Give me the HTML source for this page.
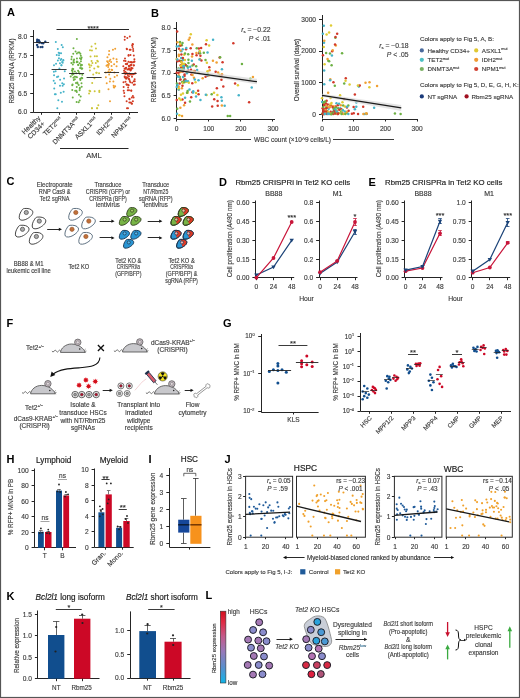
<!DOCTYPE html>
<html><head><meta charset="utf-8"><style>
html,body{margin:0;padding:0;background:#fff;}
svg{display:block;font-family:"Liberation Sans", sans-serif;will-change:transform;}
text{stroke:#3a3a3a;stroke-width:0.14px;}
</style></head><body>
<svg width="520" height="698" viewBox="0 0 520 698">
<rect x="0" y="0" width="520" height="698" fill="#fff"/>
<text x="7.00" y="16.35" font-size="11" font-weight="bold" fill="#000" style="stroke:none">A</text>
<line x1="33.50" y1="30.00" x2="33.50" y2="112.30" stroke="#252525" stroke-width="1.0" />
<line x1="30.20" y1="36.50" x2="33.20" y2="36.50" stroke="#252525" stroke-width="1.0" />
<text x="27.20" y="38.82" font-size="6.615" text-anchor="end" fill="#3a3a3a">8.0</text>
<line x1="30.20" y1="55.50" x2="33.20" y2="55.50" stroke="#252525" stroke-width="1.0" />
<text x="27.20" y="57.72" font-size="6.615" text-anchor="end" fill="#3a3a3a">7.5</text>
<line x1="30.20" y1="74.50" x2="33.20" y2="74.50" stroke="#252525" stroke-width="1.0" />
<text x="27.20" y="76.62" font-size="6.615" text-anchor="end" fill="#3a3a3a">7.0</text>
<line x1="30.20" y1="93.50" x2="33.20" y2="93.50" stroke="#252525" stroke-width="1.0" />
<text x="27.20" y="95.52" font-size="6.615" text-anchor="end" fill="#3a3a3a">6.5</text>
<line x1="30.20" y1="112.50" x2="33.20" y2="112.50" stroke="#252525" stroke-width="1.0" />
<text x="27.20" y="114.42" font-size="6.615" text-anchor="end" fill="#3a3a3a">6.0</text>
<line x1="33.20" y1="112.50" x2="138.00" y2="112.50" stroke="#252525" stroke-width="1.0" />
<line x1="41.50" y1="112.30" x2="41.50" y2="114.80" stroke="#252525" stroke-width="1.0" />
<line x1="59.50" y1="112.30" x2="59.50" y2="114.80" stroke="#252525" stroke-width="1.0" />
<line x1="76.50" y1="112.30" x2="76.50" y2="114.80" stroke="#252525" stroke-width="1.0" />
<line x1="94.50" y1="112.30" x2="94.50" y2="114.80" stroke="#252525" stroke-width="1.0" />
<line x1="111.50" y1="112.30" x2="111.50" y2="114.80" stroke="#252525" stroke-width="1.0" />
<line x1="129.50" y1="112.30" x2="129.50" y2="114.80" stroke="#252525" stroke-width="1.0" />
<text x="11.50" y="73.20" font-size="6.3" text-anchor="middle" fill="#3a3a3a" transform="rotate(-90 11.50 71.00)">RBM25 mRNA (RPKM)</text>
<circle cx="43.16" cy="43.23" r="1.2" fill="#1c3f73" />
<circle cx="37.20" cy="41.19" r="1.2" fill="#1c3f73" />
<circle cx="37.09" cy="45.01" r="1.2" fill="#1c3f73" />
<circle cx="41.68" cy="43.11" r="1.2" fill="#1c3f73" />
<circle cx="37.22" cy="39.80" r="1.2" fill="#1c3f73" />
<circle cx="37.37" cy="41.89" r="1.2" fill="#1c3f73" />
<circle cx="37.82" cy="46.96" r="1.2" fill="#1c3f73" />
<circle cx="38.77" cy="40.29" r="1.2" fill="#1c3f73" />
<circle cx="42.37" cy="47.02" r="1.2" fill="#1c3f73" />
<circle cx="40.56" cy="47.08" r="1.2" fill="#1c3f73" />
<circle cx="45.30" cy="41.74" r="1.2" fill="#1c3f73" />
<circle cx="39.41" cy="42.67" r="1.2" fill="#1c3f73" />
<circle cx="39.62" cy="41.73" r="1.2" fill="#1c3f73" />
<circle cx="62.69" cy="62.68" r="1.0" fill="#45b3c9" />
<circle cx="60.64" cy="59.92" r="1.0" fill="#45b3c9" />
<circle cx="57.82" cy="49.02" r="1.0" fill="#45b3c9" />
<circle cx="54.06" cy="75.24" r="1.0" fill="#45b3c9" />
<circle cx="55.62" cy="71.20" r="1.0" fill="#45b3c9" />
<circle cx="57.00" cy="77.00" r="1.0" fill="#45b3c9" />
<circle cx="59.99" cy="85.66" r="1.0" fill="#45b3c9" />
<circle cx="62.25" cy="83.13" r="1.0" fill="#45b3c9" />
<circle cx="61.41" cy="65.22" r="1.0" fill="#45b3c9" />
<circle cx="59.40" cy="68.56" r="1.0" fill="#45b3c9" />
<circle cx="62.81" cy="47.17" r="1.0" fill="#45b3c9" />
<circle cx="64.78" cy="71.19" r="1.0" fill="#45b3c9" />
<circle cx="55.02" cy="83.29" r="1.0" fill="#45b3c9" />
<circle cx="55.75" cy="94.30" r="1.0" fill="#45b3c9" />
<circle cx="58.98" cy="55.30" r="1.0" fill="#45b3c9" />
<circle cx="61.66" cy="44.88" r="1.0" fill="#45b3c9" />
<circle cx="59.93" cy="63.22" r="1.0" fill="#45b3c9" />
<circle cx="61.25" cy="58.92" r="1.0" fill="#45b3c9" />
<circle cx="60.14" cy="79.79" r="1.0" fill="#45b3c9" />
<circle cx="62.65" cy="85.85" r="1.0" fill="#45b3c9" />
<circle cx="64.05" cy="78.42" r="1.0" fill="#45b3c9" />
<circle cx="54.87" cy="94.18" r="1.0" fill="#45b3c9" />
<circle cx="61.44" cy="65.31" r="1.0" fill="#45b3c9" />
<circle cx="61.97" cy="101.70" r="1.0" fill="#45b3c9" />
<circle cx="57.31" cy="108.32" r="1.0" fill="#45b3c9" />
<circle cx="54.24" cy="88.43" r="1.0" fill="#45b3c9" />
<circle cx="58.70" cy="52.76" r="1.0" fill="#45b3c9" />
<circle cx="53.98" cy="65.21" r="1.0" fill="#45b3c9" />
<circle cx="62.13" cy="62.00" r="1.0" fill="#45b3c9" />
<circle cx="57.88" cy="60.56" r="1.0" fill="#45b3c9" />
<circle cx="63.23" cy="60.07" r="1.0" fill="#45b3c9" />
<circle cx="59.62" cy="53.14" r="1.0" fill="#45b3c9" />
<circle cx="63.37" cy="60.38" r="1.0" fill="#45b3c9" />
<circle cx="56.74" cy="55.06" r="1.0" fill="#45b3c9" />
<circle cx="58.33" cy="100.19" r="1.0" fill="#45b3c9" />
<circle cx="63.62" cy="91.69" r="1.0" fill="#45b3c9" />
<circle cx="55.82" cy="42.00" r="1.0" fill="#45b3c9" />
<circle cx="56.04" cy="63.86" r="1.0" fill="#45b3c9" />
<circle cx="58.94" cy="58.33" r="1.0" fill="#45b3c9" />
<circle cx="53.68" cy="80.64" r="1.0" fill="#45b3c9" />
<circle cx="58.18" cy="76.44" r="1.0" fill="#45b3c9" />
<circle cx="63.89" cy="84.36" r="1.0" fill="#45b3c9" />
<circle cx="61.09" cy="53.29" r="1.0" fill="#45b3c9" />
<circle cx="60.82" cy="92.86" r="1.0" fill="#45b3c9" />
<circle cx="53.85" cy="71.68" r="1.0" fill="#45b3c9" />
<circle cx="80.37" cy="53.74" r="1.0" fill="#6cb043" />
<circle cx="79.76" cy="88.67" r="1.0" fill="#6cb043" />
<circle cx="72.27" cy="85.23" r="1.0" fill="#6cb043" />
<circle cx="78.10" cy="64.85" r="1.0" fill="#6cb043" />
<circle cx="73.24" cy="68.96" r="1.0" fill="#6cb043" />
<circle cx="72.61" cy="71.88" r="1.0" fill="#6cb043" />
<circle cx="70.72" cy="76.45" r="1.0" fill="#6cb043" />
<circle cx="72.55" cy="69.94" r="1.0" fill="#6cb043" />
<circle cx="71.40" cy="62.95" r="1.0" fill="#6cb043" />
<circle cx="80.80" cy="65.79" r="1.0" fill="#6cb043" />
<circle cx="73.77" cy="80.06" r="1.0" fill="#6cb043" />
<circle cx="74.85" cy="79.27" r="1.0" fill="#6cb043" />
<circle cx="80.63" cy="78.76" r="1.0" fill="#6cb043" />
<circle cx="82.26" cy="68.38" r="1.0" fill="#6cb043" />
<circle cx="72.27" cy="90.07" r="1.0" fill="#6cb043" />
<circle cx="71.96" cy="70.42" r="1.0" fill="#6cb043" />
<circle cx="80.35" cy="80.12" r="1.0" fill="#6cb043" />
<circle cx="72.84" cy="64.51" r="1.0" fill="#6cb043" />
<circle cx="76.85" cy="39.02" r="1.0" fill="#6cb043" />
<circle cx="72.53" cy="68.82" r="1.0" fill="#6cb043" />
<circle cx="76.93" cy="77.16" r="1.0" fill="#6cb043" />
<circle cx="82.30" cy="74.82" r="1.0" fill="#6cb043" />
<circle cx="74.06" cy="59.43" r="1.0" fill="#6cb043" />
<circle cx="75.21" cy="90.71" r="1.0" fill="#6cb043" />
<circle cx="76.95" cy="61.62" r="1.0" fill="#6cb043" />
<circle cx="79.38" cy="52.50" r="1.0" fill="#6cb043" />
<circle cx="80.19" cy="78.82" r="1.0" fill="#6cb043" />
<circle cx="82.01" cy="64.97" r="1.0" fill="#6cb043" />
<circle cx="79.95" cy="58.28" r="1.0" fill="#6cb043" />
<circle cx="79.00" cy="94.71" r="1.0" fill="#6cb043" />
<circle cx="74.90" cy="71.40" r="1.0" fill="#6cb043" />
<circle cx="71.72" cy="56.76" r="1.0" fill="#6cb043" />
<circle cx="73.97" cy="62.47" r="1.0" fill="#6cb043" />
<circle cx="78.87" cy="71.89" r="1.0" fill="#6cb043" />
<circle cx="81.22" cy="58.86" r="1.0" fill="#6cb043" />
<circle cx="82.26" cy="78.14" r="1.0" fill="#6cb043" />
<circle cx="73.60" cy="60.78" r="1.0" fill="#6cb043" />
<circle cx="73.42" cy="77.74" r="1.0" fill="#6cb043" />
<circle cx="78.05" cy="70.73" r="1.0" fill="#6cb043" />
<circle cx="81.05" cy="64.75" r="1.0" fill="#6cb043" />
<circle cx="78.31" cy="65.09" r="1.0" fill="#6cb043" />
<circle cx="79.80" cy="87.76" r="1.0" fill="#6cb043" />
<circle cx="80.81" cy="55.73" r="1.0" fill="#6cb043" />
<circle cx="79.70" cy="63.20" r="1.0" fill="#6cb043" />
<circle cx="72.74" cy="73.91" r="1.0" fill="#6cb043" />
<circle cx="79.62" cy="90.30" r="1.0" fill="#6cb043" />
<circle cx="81.69" cy="86.71" r="1.0" fill="#6cb043" />
<circle cx="75.57" cy="51.51" r="1.0" fill="#6cb043" />
<circle cx="78.69" cy="102.25" r="1.0" fill="#6cb043" />
<circle cx="73.28" cy="53.72" r="1.0" fill="#6cb043" />
<circle cx="81.24" cy="68.18" r="1.0" fill="#6cb043" />
<circle cx="80.11" cy="68.03" r="1.0" fill="#6cb043" />
<circle cx="81.62" cy="57.60" r="1.0" fill="#6cb043" />
<circle cx="78.17" cy="52.56" r="1.0" fill="#6cb043" />
<circle cx="72.55" cy="84.61" r="1.0" fill="#6cb043" />
<circle cx="71.45" cy="59.29" r="1.0" fill="#6cb043" />
<circle cx="76.87" cy="53.46" r="1.0" fill="#6cb043" />
<circle cx="81.65" cy="77.71" r="1.0" fill="#6cb043" />
<circle cx="79.69" cy="100.55" r="1.0" fill="#6cb043" />
<circle cx="73.46" cy="62.16" r="1.0" fill="#6cb043" />
<circle cx="73.49" cy="74.06" r="1.0" fill="#6cb043" />
<circle cx="77.54" cy="61.96" r="1.0" fill="#6cb043" />
<circle cx="72.20" cy="74.80" r="1.0" fill="#6cb043" />
<circle cx="80.94" cy="58.98" r="1.0" fill="#6cb043" />
<circle cx="77.52" cy="83.57" r="1.0" fill="#6cb043" />
<circle cx="80.96" cy="61.28" r="1.0" fill="#6cb043" />
<circle cx="76.62" cy="102.12" r="1.0" fill="#6cb043" />
<circle cx="76.94" cy="58.57" r="1.0" fill="#6cb043" />
<circle cx="75.90" cy="76.68" r="1.0" fill="#6cb043" />
<circle cx="72.81" cy="74.33" r="1.0" fill="#6cb043" />
<circle cx="73.47" cy="48.19" r="1.0" fill="#6cb043" />
<circle cx="76.28" cy="73.29" r="1.0" fill="#6cb043" />
<circle cx="74.56" cy="76.77" r="1.0" fill="#6cb043" />
<circle cx="76.79" cy="92.02" r="1.0" fill="#6cb043" />
<circle cx="72.76" cy="97.57" r="1.0" fill="#6cb043" />
<circle cx="77.27" cy="82.51" r="1.0" fill="#6cb043" />
<circle cx="79.86" cy="73.81" r="1.0" fill="#6cb043" />
<circle cx="76.68" cy="62.36" r="1.0" fill="#6cb043" />
<circle cx="80.67" cy="96.39" r="1.0" fill="#6cb043" />
<circle cx="75.97" cy="83.10" r="1.0" fill="#6cb043" />
<circle cx="76.73" cy="86.88" r="1.0" fill="#6cb043" />
<circle cx="78.71" cy="85.00" r="1.0" fill="#6cb043" />
<circle cx="76.37" cy="90.87" r="1.0" fill="#6cb043" />
<circle cx="81.68" cy="68.69" r="1.0" fill="#6cb043" />
<circle cx="81.52" cy="83.14" r="1.0" fill="#6cb043" />
<circle cx="91.92" cy="108.16" r="1.0" fill="#cdc63a" />
<circle cx="97.18" cy="108.32" r="1.0" fill="#cdc63a" />
<circle cx="90.23" cy="91.22" r="1.0" fill="#cdc63a" />
<circle cx="89.47" cy="64.94" r="1.0" fill="#cdc63a" />
<circle cx="91.28" cy="65.46" r="1.0" fill="#cdc63a" />
<circle cx="96.93" cy="56.15" r="1.0" fill="#cdc63a" />
<circle cx="98.47" cy="66.85" r="1.0" fill="#cdc63a" />
<circle cx="95.81" cy="63.09" r="1.0" fill="#cdc63a" />
<circle cx="90.52" cy="56.54" r="1.0" fill="#cdc63a" />
<circle cx="91.56" cy="46.52" r="1.0" fill="#cdc63a" />
<circle cx="98.33" cy="105.24" r="1.0" fill="#cdc63a" />
<circle cx="99.29" cy="92.05" r="1.0" fill="#cdc63a" />
<circle cx="97.74" cy="66.38" r="1.0" fill="#cdc63a" />
<circle cx="94.27" cy="68.41" r="1.0" fill="#cdc63a" />
<circle cx="92.39" cy="62.99" r="1.0" fill="#cdc63a" />
<circle cx="96.67" cy="72.68" r="1.0" fill="#cdc63a" />
<circle cx="88.93" cy="64.22" r="1.0" fill="#cdc63a" />
<circle cx="89.06" cy="93.46" r="1.0" fill="#cdc63a" />
<circle cx="92.17" cy="83.02" r="1.0" fill="#cdc63a" />
<circle cx="89.43" cy="90.87" r="1.0" fill="#cdc63a" />
<circle cx="99.30" cy="90.69" r="1.0" fill="#cdc63a" />
<circle cx="89.74" cy="67.20" r="1.0" fill="#cdc63a" />
<circle cx="91.98" cy="108.32" r="1.0" fill="#cdc63a" />
<circle cx="91.93" cy="50.59" r="1.0" fill="#cdc63a" />
<circle cx="89.89" cy="70.53" r="1.0" fill="#cdc63a" />
<circle cx="96.99" cy="108.19" r="1.0" fill="#cdc63a" />
<circle cx="91.58" cy="60.92" r="1.0" fill="#cdc63a" />
<circle cx="94.81" cy="56.28" r="1.0" fill="#cdc63a" />
<circle cx="95.96" cy="48.60" r="1.0" fill="#cdc63a" />
<circle cx="96.28" cy="72.70" r="1.0" fill="#cdc63a" />
<circle cx="93.22" cy="74.41" r="1.0" fill="#cdc63a" />
<circle cx="95.28" cy="43.66" r="1.0" fill="#cdc63a" />
<circle cx="97.25" cy="60.85" r="1.0" fill="#cdc63a" />
<circle cx="90.02" cy="50.29" r="1.0" fill="#cdc63a" />
<circle cx="97.91" cy="61.62" r="1.0" fill="#cdc63a" />
<circle cx="94.67" cy="91.17" r="1.0" fill="#cdc63a" />
<circle cx="99.05" cy="73.19" r="1.0" fill="#cdc63a" />
<circle cx="94.42" cy="78.26" r="1.0" fill="#cdc63a" />
<circle cx="108.65" cy="64.90" r="1.0" fill="#f0a033" />
<circle cx="106.49" cy="65.82" r="1.0" fill="#f0a033" />
<circle cx="108.17" cy="67.00" r="1.0" fill="#f0a033" />
<circle cx="114.60" cy="77.06" r="1.0" fill="#f0a033" />
<circle cx="109.31" cy="61.07" r="1.0" fill="#f0a033" />
<circle cx="109.90" cy="81.40" r="1.0" fill="#f0a033" />
<circle cx="105.82" cy="72.42" r="1.0" fill="#f0a033" />
<circle cx="114.40" cy="72.42" r="1.0" fill="#f0a033" />
<circle cx="112.20" cy="69.88" r="1.0" fill="#f0a033" />
<circle cx="116.57" cy="66.36" r="1.0" fill="#f0a033" />
<circle cx="107.44" cy="57.27" r="1.0" fill="#f0a033" />
<circle cx="111.54" cy="66.00" r="1.0" fill="#f0a033" />
<circle cx="115.17" cy="86.28" r="1.0" fill="#f0a033" />
<circle cx="113.61" cy="85.78" r="1.0" fill="#f0a033" />
<circle cx="116.90" cy="61.78" r="1.0" fill="#f0a033" />
<circle cx="113.79" cy="87.34" r="1.0" fill="#f0a033" />
<circle cx="112.94" cy="49.74" r="1.0" fill="#f0a033" />
<circle cx="106.72" cy="83.37" r="1.0" fill="#f0a033" />
<circle cx="107.42" cy="64.93" r="1.0" fill="#f0a033" />
<circle cx="109.16" cy="51.10" r="1.0" fill="#f0a033" />
<circle cx="107.88" cy="62.26" r="1.0" fill="#f0a033" />
<circle cx="115.21" cy="48.64" r="1.0" fill="#f0a033" />
<circle cx="113.42" cy="58.46" r="1.0" fill="#f0a033" />
<circle cx="109.16" cy="74.54" r="1.0" fill="#f0a033" />
<circle cx="111.15" cy="61.93" r="1.0" fill="#f0a033" />
<circle cx="108.95" cy="63.84" r="1.0" fill="#f0a033" />
<circle cx="116.57" cy="59.36" r="1.0" fill="#f0a033" />
<circle cx="108.97" cy="54.60" r="1.0" fill="#f0a033" />
<circle cx="117.05" cy="75.50" r="1.0" fill="#f0a033" />
<circle cx="105.85" cy="77.34" r="1.0" fill="#f0a033" />
<circle cx="110.32" cy="59.85" r="1.0" fill="#f0a033" />
<circle cx="108.49" cy="89.17" r="1.0" fill="#f0a033" />
<circle cx="111.66" cy="69.72" r="1.0" fill="#f0a033" />
<circle cx="107.12" cy="61.16" r="1.0" fill="#f0a033" />
<circle cx="110.40" cy="72.06" r="1.0" fill="#f0a033" />
<circle cx="109.31" cy="69.45" r="1.0" fill="#f0a033" />
<circle cx="108.41" cy="71.62" r="1.0" fill="#f0a033" />
<circle cx="114.25" cy="87.55" r="1.0" fill="#f0a033" />
<circle cx="113.36" cy="81.44" r="1.0" fill="#f0a033" />
<circle cx="110.34" cy="78.67" r="1.0" fill="#f0a033" />
<circle cx="109.99" cy="101.26" r="1.0" fill="#f0a033" />
<circle cx="114.12" cy="64.27" r="1.0" fill="#f0a033" />
<circle cx="130.89" cy="74.41" r="1.0" fill="#d23a22" />
<circle cx="132.90" cy="44.53" r="1.0" fill="#d23a22" />
<circle cx="130.60" cy="65.35" r="1.0" fill="#d23a22" />
<circle cx="124.66" cy="76.48" r="1.0" fill="#d23a22" />
<circle cx="129.33" cy="102.43" r="1.0" fill="#d23a22" />
<circle cx="132.02" cy="103.67" r="1.0" fill="#d23a22" />
<circle cx="133.19" cy="74.37" r="1.0" fill="#d23a22" />
<circle cx="130.87" cy="102.52" r="1.0" fill="#d23a22" />
<circle cx="131.21" cy="90.45" r="1.0" fill="#d23a22" />
<circle cx="124.50" cy="73.04" r="1.0" fill="#d23a22" />
<circle cx="127.40" cy="69.58" r="1.0" fill="#d23a22" />
<circle cx="129.70" cy="49.69" r="1.0" fill="#d23a22" />
<circle cx="130.47" cy="55.06" r="1.0" fill="#d23a22" />
<circle cx="128.98" cy="90.37" r="1.0" fill="#d23a22" />
<circle cx="123.69" cy="90.64" r="1.0" fill="#d23a22" />
<circle cx="129.14" cy="65.76" r="1.0" fill="#d23a22" />
<circle cx="129.45" cy="98.74" r="1.0" fill="#d23a22" />
<circle cx="132.01" cy="76.71" r="1.0" fill="#d23a22" />
<circle cx="126.10" cy="78.49" r="1.0" fill="#d23a22" />
<circle cx="131.73" cy="62.41" r="1.0" fill="#d23a22" />
<circle cx="125.55" cy="67.92" r="1.0" fill="#d23a22" />
<circle cx="129.03" cy="76.31" r="1.0" fill="#d23a22" />
<circle cx="128.03" cy="108.32" r="1.0" fill="#d23a22" />
<circle cx="131.83" cy="97.42" r="1.0" fill="#d23a22" />
<circle cx="130.54" cy="70.38" r="1.0" fill="#d23a22" />
<circle cx="124.80" cy="77.52" r="1.0" fill="#d23a22" />
<circle cx="126.12" cy="78.53" r="1.0" fill="#d23a22" />
<circle cx="129.95" cy="74.12" r="1.0" fill="#d23a22" />
<circle cx="123.62" cy="87.06" r="1.0" fill="#d23a22" />
<circle cx="131.07" cy="61.88" r="1.0" fill="#d23a22" />
<circle cx="131.43" cy="68.87" r="1.0" fill="#d23a22" />
<circle cx="129.30" cy="79.47" r="1.0" fill="#d23a22" />
<circle cx="128.70" cy="85.30" r="1.0" fill="#d23a22" />
<circle cx="133.75" cy="81.34" r="1.0" fill="#d23a22" />
<circle cx="125.36" cy="71.87" r="1.0" fill="#d23a22" />
<circle cx="124.80" cy="36.64" r="1.0" fill="#d23a22" />
<circle cx="128.60" cy="78.65" r="1.0" fill="#d23a22" />
<circle cx="128.55" cy="55.82" r="1.0" fill="#d23a22" />
<circle cx="126.99" cy="108.32" r="1.0" fill="#d23a22" />
<circle cx="125.73" cy="63.98" r="1.0" fill="#d23a22" />
<circle cx="129.82" cy="36.45" r="1.0" fill="#d23a22" />
<circle cx="134.25" cy="61.38" r="1.0" fill="#d23a22" />
<circle cx="125.02" cy="58.50" r="1.0" fill="#d23a22" />
<circle cx="133.66" cy="65.46" r="1.0" fill="#d23a22" />
<circle cx="131.31" cy="90.66" r="1.0" fill="#d23a22" />
<circle cx="128.93" cy="69.59" r="1.0" fill="#d23a22" />
<circle cx="124.71" cy="39.87" r="1.0" fill="#d23a22" />
<circle cx="128.57" cy="55.08" r="1.0" fill="#d23a22" />
<circle cx="126.61" cy="73.13" r="1.0" fill="#d23a22" />
<circle cx="126.95" cy="64.30" r="1.0" fill="#d23a22" />
<circle cx="133.00" cy="62.27" r="1.0" fill="#d23a22" />
<circle cx="132.48" cy="47.08" r="1.0" fill="#d23a22" />
<circle cx="124.32" cy="73.25" r="1.0" fill="#d23a22" />
<circle cx="133.26" cy="51.09" r="1.0" fill="#d23a22" />
<circle cx="126.69" cy="84.74" r="1.0" fill="#d23a22" />
<circle cx="134.84" cy="84.56" r="1.0" fill="#d23a22" />
<circle cx="130.12" cy="62.13" r="1.0" fill="#d23a22" />
<circle cx="126.51" cy="84.30" r="1.0" fill="#d23a22" />
<circle cx="123.99" cy="60.66" r="1.0" fill="#d23a22" />
<circle cx="126.92" cy="49.37" r="1.0" fill="#d23a22" />
<circle cx="133.81" cy="55.58" r="1.0" fill="#d23a22" />
<circle cx="129.24" cy="73.49" r="1.0" fill="#d23a22" />
<circle cx="125.58" cy="61.07" r="1.0" fill="#d23a22" />
<circle cx="132.87" cy="101.33" r="1.0" fill="#d23a22" />
<circle cx="132.15" cy="45.18" r="1.0" fill="#d23a22" />
<circle cx="133.60" cy="97.44" r="1.0" fill="#d23a22" />
<circle cx="129.59" cy="99.28" r="1.0" fill="#d23a22" />
<circle cx="132.01" cy="74.51" r="1.0" fill="#d23a22" />
<circle cx="128.51" cy="78.51" r="1.0" fill="#d23a22" />
<circle cx="126.41" cy="73.16" r="1.0" fill="#d23a22" />
<circle cx="124.45" cy="96.37" r="1.0" fill="#d23a22" />
<circle cx="128.77" cy="66.12" r="1.0" fill="#d23a22" />
<circle cx="127.19" cy="77.22" r="1.0" fill="#d23a22" />
<circle cx="134.73" cy="81.24" r="1.0" fill="#d23a22" />
<circle cx="126.67" cy="48.68" r="1.0" fill="#d23a22" />
<circle cx="129.78" cy="81.02" r="1.0" fill="#d23a22" />
<circle cx="127.89" cy="84.70" r="1.0" fill="#d23a22" />
<circle cx="125.56" cy="68.86" r="1.0" fill="#d23a22" />
<circle cx="133.88" cy="65.36" r="1.0" fill="#d23a22" />
<circle cx="133.76" cy="84.73" r="1.0" fill="#d23a22" />
<circle cx="135.35" cy="73.34" r="1.0" fill="#d23a22" />
<circle cx="125.48" cy="81.82" r="1.0" fill="#d23a22" />
<circle cx="124.05" cy="70.85" r="1.0" fill="#d23a22" />
<circle cx="125.91" cy="77.33" r="1.0" fill="#d23a22" />
<circle cx="126.20" cy="67.73" r="1.0" fill="#d23a22" />
<circle cx="131.50" cy="103.59" r="1.0" fill="#d23a22" />
<circle cx="128.12" cy="87.59" r="1.0" fill="#d23a22" />
<circle cx="127.75" cy="90.13" r="1.0" fill="#d23a22" />
<circle cx="127.22" cy="63.58" r="1.0" fill="#d23a22" />
<circle cx="134.44" cy="61.70" r="1.0" fill="#d23a22" />
<circle cx="124.57" cy="68.68" r="1.0" fill="#d23a22" />
<circle cx="132.86" cy="95.91" r="1.0" fill="#d23a22" />
<circle cx="125.53" cy="74.02" r="1.0" fill="#d23a22" />
<circle cx="127.85" cy="75.12" r="1.0" fill="#d23a22" />
<circle cx="128.48" cy="61.65" r="1.0" fill="#d23a22" />
<circle cx="132.70" cy="43.97" r="1.0" fill="#d23a22" />
<circle cx="123.50" cy="82.35" r="1.0" fill="#d23a22" />
<circle cx="133.12" cy="49.09" r="1.0" fill="#d23a22" />
<circle cx="128.78" cy="68.52" r="1.0" fill="#d23a22" />
<circle cx="127.74" cy="73.80" r="1.0" fill="#d23a22" />
<circle cx="134.47" cy="73.70" r="1.0" fill="#d23a22" />
<circle cx="134.38" cy="59.27" r="1.0" fill="#d23a22" />
<circle cx="126.63" cy="101.31" r="1.0" fill="#d23a22" />
<circle cx="129.37" cy="66.42" r="1.0" fill="#d23a22" />
<circle cx="131.29" cy="67.73" r="1.0" fill="#d23a22" />
<circle cx="130.61" cy="49.85" r="1.0" fill="#d23a22" />
<circle cx="132.19" cy="82.67" r="1.0" fill="#d23a22" />
<circle cx="124.19" cy="92.93" r="1.0" fill="#d23a22" />
<circle cx="132.51" cy="68.22" r="1.0" fill="#d23a22" />
<circle cx="130.88" cy="69.65" r="1.0" fill="#d23a22" />
<circle cx="127.32" cy="38.08" r="1.0" fill="#d23a22" />
<circle cx="130.70" cy="65.15" r="1.0" fill="#d23a22" />
<circle cx="131.43" cy="64.84" r="1.0" fill="#d23a22" />
<circle cx="129.40" cy="68.92" r="1.0" fill="#d23a22" />
<circle cx="130.11" cy="69.62" r="1.0" fill="#d23a22" />
<circle cx="130.29" cy="82.16" r="1.0" fill="#d23a22" />
<circle cx="123.29" cy="66.24" r="1.0" fill="#d23a22" />
<circle cx="134.63" cy="79.16" r="1.0" fill="#d23a22" />
<line x1="34.10" y1="42.50" x2="49.10" y2="42.50" stroke="#222" stroke-width="0.9" />
<line x1="51.60" y1="69.50" x2="66.60" y2="69.50" stroke="#222" stroke-width="0.9" />
<line x1="69.10" y1="73.50" x2="84.10" y2="73.50" stroke="#222" stroke-width="0.9" />
<line x1="86.60" y1="77.50" x2="101.60" y2="77.50" stroke="#222" stroke-width="0.9" />
<line x1="104.10" y1="72.50" x2="119.10" y2="72.50" stroke="#222" stroke-width="0.9" />
<line x1="121.60" y1="73.50" x2="136.60" y2="73.50" stroke="#222" stroke-width="0.9" />
<line x1="56.50" y1="29.50" x2="129.00" y2="29.50" stroke="#252525" stroke-width="1.0" />
<text x="93.10" y="30.50" font-size="7.2" text-anchor="middle" fill="#222">****</text>
<text font-size="6.8" text-anchor="middle" fill="#3a3a3a" transform="translate(33.5 127.5) rotate(-45)"><tspan x="0" y="-1.2">Healthy</tspan><tspan x="0" y="6.1">CD34+</tspan></text>
<text x="62.50" y="119.80" font-size="6.8" text-anchor="end" fill="#3a3a3a" transform="rotate(-45 62.50 119.80)">TET2<tspan font-size="4.3" dy="-2.6">mut</tspan></text>
<text x="80.00" y="119.80" font-size="6.8" text-anchor="end" fill="#3a3a3a" transform="rotate(-45 80.00 119.80)">DNMT3A<tspan font-size="4.3" dy="-2.6">mut</tspan></text>
<text x="97.50" y="119.80" font-size="6.8" text-anchor="end" fill="#3a3a3a" transform="rotate(-45 97.50 119.80)">ASXL1<tspan font-size="4.3" dy="-2.6">mut</tspan></text>
<text x="115.00" y="119.80" font-size="6.8" text-anchor="end" fill="#3a3a3a" transform="rotate(-45 115.00 119.80)">IDH2<tspan font-size="4.3" dy="-2.6">mut</tspan></text>
<text x="132.50" y="119.80" font-size="6.8" text-anchor="end" fill="#3a3a3a" transform="rotate(-45 132.50 119.80)">NPM1<tspan font-size="4.3" dy="-2.6">mut</tspan></text>
<line x1="60.00" y1="148.50" x2="128.50" y2="148.50" stroke="#252525" stroke-width="1.0" />
<text x="94.00" y="158.46" font-size="7.6" text-anchor="middle" fill="#3a3a3a">AML</text>
<text x="151.00" y="16.85" font-size="11" font-weight="bold" fill="#000" style="stroke:none">B</text>
<line x1="176.50" y1="22.00" x2="176.50" y2="118.50" stroke="#252525" stroke-width="1.0" />
<line x1="173.60" y1="28.50" x2="176.60" y2="28.50" stroke="#252525" stroke-width="1.0" />
<text x="170.60" y="30.32" font-size="6.615" text-anchor="end" fill="#3a3a3a">8.0</text>
<line x1="173.60" y1="50.50" x2="176.60" y2="50.50" stroke="#252525" stroke-width="1.0" />
<text x="170.60" y="52.89" font-size="6.615" text-anchor="end" fill="#3a3a3a">7.5</text>
<line x1="173.60" y1="73.50" x2="176.60" y2="73.50" stroke="#252525" stroke-width="1.0" />
<text x="170.60" y="75.47" font-size="6.615" text-anchor="end" fill="#3a3a3a">7.0</text>
<line x1="173.60" y1="95.50" x2="176.60" y2="95.50" stroke="#252525" stroke-width="1.0" />
<text x="170.60" y="98.04" font-size="6.615" text-anchor="end" fill="#3a3a3a">6.5</text>
<line x1="173.60" y1="118.50" x2="176.60" y2="118.50" stroke="#252525" stroke-width="1.0" />
<text x="170.60" y="120.62" font-size="6.615" text-anchor="end" fill="#3a3a3a">6.0</text>
<line x1="176.60" y1="119.50" x2="275.00" y2="119.50" stroke="#252525" stroke-width="1.0" />
<line x1="176.50" y1="119.00" x2="176.50" y2="121.50" stroke="#252525" stroke-width="1.0" />
<text x="176.60" y="130.81" font-size="6.6" text-anchor="middle" fill="#3a3a3a">0</text>
<line x1="208.50" y1="119.00" x2="208.50" y2="121.50" stroke="#252525" stroke-width="1.0" />
<text x="208.73" y="130.81" font-size="6.6" text-anchor="middle" fill="#3a3a3a">100</text>
<line x1="240.50" y1="119.00" x2="240.50" y2="121.50" stroke="#252525" stroke-width="1.0" />
<text x="240.86" y="130.81" font-size="6.6" text-anchor="middle" fill="#3a3a3a">200</text>
<line x1="272.50" y1="119.00" x2="272.50" y2="121.50" stroke="#252525" stroke-width="1.0" />
<text x="272.99" y="130.81" font-size="6.6" text-anchor="middle" fill="#3a3a3a">300</text>
<text x="154.30" y="71.80" font-size="6.3" text-anchor="middle" fill="#3a3a3a" transform="rotate(-90 154.30 69.60)">RBM25 mRNA (RPKM)</text>
<circle cx="200.45" cy="55.85" r="1.25" fill="#d2382a" />
<circle cx="177.13" cy="31.61" r="1.25" fill="#d2382a" />
<circle cx="183.55" cy="69.69" r="1.25" fill="#d2382a" />
<circle cx="183.66" cy="67.29" r="1.25" fill="#d2382a" />
<circle cx="199.95" cy="58.94" r="1.25" fill="#f0a033" />
<circle cx="178.77" cy="75.15" r="1.25" fill="#f0a033" />
<circle cx="208.89" cy="75.44" r="1.25" fill="#e0cc34" />
<circle cx="182.47" cy="43.05" r="1.25" fill="#6cb043" />
<circle cx="179.99" cy="41.99" r="1.25" fill="#6cb043" />
<circle cx="187.61" cy="92.63" r="1.25" fill="#e0cc34" />
<circle cx="179.84" cy="76.96" r="1.25" fill="#6cb043" />
<circle cx="182.70" cy="65.69" r="1.25" fill="#d2382a" />
<circle cx="180.35" cy="71.43" r="1.25" fill="#d2382a" />
<circle cx="178.91" cy="89.41" r="1.25" fill="#f0a033" />
<circle cx="251.73" cy="87.40" r="1.25" fill="#45b3c9" />
<circle cx="193.69" cy="64.40" r="1.25" fill="#d2382a" />
<circle cx="219.63" cy="57.58" r="1.25" fill="#d2382a" />
<circle cx="177.75" cy="76.56" r="1.25" fill="#45b3c9" />
<circle cx="186.88" cy="73.28" r="1.25" fill="#45b3c9" />
<circle cx="206.56" cy="95.04" r="1.25" fill="#e0cc34" />
<circle cx="181.30" cy="51.36" r="1.25" fill="#45b3c9" />
<circle cx="192.37" cy="44.47" r="1.25" fill="#f0a033" />
<circle cx="176.80" cy="46.60" r="1.25" fill="#45b3c9" />
<circle cx="180.55" cy="72.11" r="1.25" fill="#f0a033" />
<circle cx="177.01" cy="113.76" r="1.25" fill="#45b3c9" />
<circle cx="190.79" cy="34.27" r="1.25" fill="#e0cc34" />
<circle cx="178.64" cy="89.56" r="1.25" fill="#45b3c9" />
<circle cx="179.29" cy="98.56" r="1.25" fill="#e0cc34" />
<circle cx="194.76" cy="71.04" r="1.25" fill="#d2382a" />
<circle cx="223.31" cy="86.42" r="1.25" fill="#d2382a" />
<circle cx="222.02" cy="74.25" r="1.25" fill="#f0a033" />
<circle cx="182.11" cy="63.70" r="1.25" fill="#f0a033" />
<circle cx="212.18" cy="106.53" r="1.25" fill="#d2382a" />
<circle cx="207.47" cy="71.24" r="1.25" fill="#e0cc34" />
<circle cx="191.39" cy="74.55" r="1.25" fill="#d2382a" />
<circle cx="185.08" cy="97.73" r="1.25" fill="#45b3c9" />
<circle cx="250.34" cy="78.71" r="1.25" fill="#6cb043" />
<circle cx="180.97" cy="69.34" r="1.25" fill="#45b3c9" />
<circle cx="252.91" cy="77.03" r="1.25" fill="#f0a033" />
<circle cx="181.92" cy="88.20" r="1.25" fill="#f0a033" />
<circle cx="217.72" cy="105.74" r="1.25" fill="#d2382a" />
<circle cx="186.52" cy="81.74" r="1.25" fill="#e0cc34" />
<circle cx="183.29" cy="69.38" r="1.25" fill="#d2382a" />
<circle cx="187.63" cy="90.97" r="1.25" fill="#6cb043" />
<circle cx="176.69" cy="58.91" r="1.25" fill="#e0cc34" />
<circle cx="182.48" cy="99.57" r="1.25" fill="#d2382a" />
<circle cx="197.13" cy="69.92" r="1.25" fill="#45b3c9" />
<circle cx="193.96" cy="77.69" r="1.25" fill="#f0a033" />
<circle cx="182.05" cy="67.90" r="1.25" fill="#6cb043" />
<circle cx="183.12" cy="60.08" r="1.25" fill="#45b3c9" />
<circle cx="214.02" cy="92.79" r="1.25" fill="#e0cc34" />
<circle cx="189.47" cy="89.58" r="1.25" fill="#45b3c9" />
<circle cx="178.41" cy="68.54" r="1.25" fill="#6cb043" />
<circle cx="179.38" cy="115.20" r="1.25" fill="#e0cc34" />
<circle cx="205.81" cy="94.73" r="1.25" fill="#45b3c9" />
<circle cx="187.90" cy="67.71" r="1.25" fill="#45b3c9" />
<circle cx="190.20" cy="66.72" r="1.25" fill="#45b3c9" />
<circle cx="192.52" cy="65.41" r="1.25" fill="#6cb043" />
<circle cx="180.24" cy="45.48" r="1.25" fill="#d2382a" />
<circle cx="202.70" cy="78.16" r="1.25" fill="#f0a033" />
<circle cx="205.97" cy="44.31" r="1.25" fill="#d2382a" />
<circle cx="178.79" cy="88.34" r="1.25" fill="#e0cc34" />
<circle cx="183.86" cy="68.81" r="1.25" fill="#45b3c9" />
<circle cx="181.20" cy="58.05" r="1.25" fill="#45b3c9" />
<circle cx="184.99" cy="64.13" r="1.25" fill="#6cb043" />
<circle cx="178.59" cy="86.51" r="1.25" fill="#f0a033" />
<circle cx="184.12" cy="80.50" r="1.25" fill="#d2382a" />
<circle cx="196.16" cy="66.15" r="1.25" fill="#6cb043" />
<circle cx="218.12" cy="72.40" r="1.25" fill="#f0a033" />
<circle cx="238.75" cy="95.27" r="1.25" fill="#45b3c9" />
<circle cx="179.73" cy="79.59" r="1.25" fill="#45b3c9" />
<circle cx="179.60" cy="83.49" r="1.25" fill="#d2382a" />
<circle cx="182.18" cy="82.05" r="1.25" fill="#6cb043" />
<circle cx="178.86" cy="54.63" r="1.25" fill="#f0a033" />
<circle cx="180.65" cy="65.26" r="1.25" fill="#d2382a" />
<circle cx="198.85" cy="48.48" r="1.25" fill="#d2382a" />
<circle cx="191.01" cy="69.78" r="1.25" fill="#d2382a" />
<circle cx="181.39" cy="54.51" r="1.25" fill="#d2382a" />
<circle cx="192.46" cy="92.27" r="1.25" fill="#d2382a" />
<circle cx="182.48" cy="85.71" r="1.25" fill="#d2382a" />
<circle cx="176.76" cy="87.03" r="1.25" fill="#45b3c9" />
<circle cx="207.39" cy="75.70" r="1.25" fill="#d2382a" />
<circle cx="205.53" cy="60.10" r="1.25" fill="#6cb043" />
<circle cx="180.94" cy="94.80" r="1.25" fill="#e0cc34" />
<circle cx="181.39" cy="44.41" r="1.25" fill="#45b3c9" />
<circle cx="209.10" cy="45.52" r="1.25" fill="#e0cc34" />
<circle cx="221.42" cy="97.24" r="1.25" fill="#45b3c9" />
<circle cx="224.67" cy="105.75" r="1.25" fill="#45b3c9" />
<circle cx="181.21" cy="67.27" r="1.25" fill="#d2382a" />
<circle cx="184.09" cy="105.30" r="1.25" fill="#f0a033" />
<circle cx="222.56" cy="62.16" r="1.25" fill="#d2382a" />
<circle cx="180.78" cy="61.51" r="1.25" fill="#e0cc34" />
<circle cx="182.06" cy="116.04" r="1.25" fill="#f0a033" />
<circle cx="176.95" cy="83.61" r="1.25" fill="#6cb043" />
<circle cx="182.11" cy="69.12" r="1.25" fill="#e0cc34" />
<circle cx="182.67" cy="64.70" r="1.25" fill="#e0cc34" />
<circle cx="180.78" cy="100.09" r="1.25" fill="#e0cc34" />
<circle cx="237.90" cy="85.21" r="1.25" fill="#e0cc34" />
<circle cx="180.51" cy="79.59" r="1.25" fill="#d2382a" />
<circle cx="192.43" cy="54.03" r="1.25" fill="#d2382a" />
<circle cx="180.90" cy="65.81" r="1.25" fill="#e0cc34" />
<circle cx="206.88" cy="62.66" r="1.25" fill="#e0cc34" />
<circle cx="193.22" cy="91.27" r="1.25" fill="#45b3c9" />
<circle cx="221.44" cy="79.84" r="1.25" fill="#d2382a" />
<circle cx="182.85" cy="71.58" r="1.25" fill="#d2382a" />
<circle cx="185.90" cy="65.27" r="1.25" fill="#d2382a" />
<circle cx="178.93" cy="46.10" r="1.25" fill="#45b3c9" />
<circle cx="185.33" cy="80.74" r="1.25" fill="#45b3c9" />
<circle cx="179.00" cy="48.65" r="1.25" fill="#d2382a" />
<circle cx="190.69" cy="48.21" r="1.25" fill="#d2382a" />
<circle cx="184.34" cy="79.52" r="1.25" fill="#6cb043" />
<circle cx="182.39" cy="69.67" r="1.25" fill="#6cb043" />
<circle cx="205.58" cy="76.67" r="1.25" fill="#d2382a" />
<circle cx="221.35" cy="75.31" r="1.25" fill="#d2382a" />
<circle cx="201.42" cy="60.50" r="1.25" fill="#d2382a" />
<circle cx="176.76" cy="72.71" r="1.25" fill="#d2382a" />
<circle cx="183.48" cy="66.14" r="1.25" fill="#45b3c9" />
<circle cx="196.04" cy="96.41" r="1.25" fill="#45b3c9" />
<circle cx="187.29" cy="66.26" r="1.25" fill="#6cb043" />
<circle cx="191.22" cy="97.31" r="1.25" fill="#d2382a" />
<circle cx="184.47" cy="75.89" r="1.25" fill="#d2382a" />
<circle cx="215.65" cy="71.86" r="1.25" fill="#d2382a" />
<circle cx="199.47" cy="59.50" r="1.25" fill="#45b3c9" />
<circle cx="207.20" cy="75.24" r="1.25" fill="#45b3c9" />
<circle cx="181.84" cy="45.19" r="1.25" fill="#6cb043" />
<circle cx="201.12" cy="47.97" r="1.25" fill="#d2382a" />
<circle cx="187.96" cy="81.16" r="1.25" fill="#45b3c9" />
<circle cx="233.34" cy="43.32" r="1.25" fill="#d2382a" />
<circle cx="193.15" cy="92.45" r="1.25" fill="#45b3c9" />
<circle cx="219.71" cy="74.73" r="1.25" fill="#e0cc34" />
<circle cx="182.93" cy="93.54" r="1.25" fill="#e0cc34" />
<circle cx="212.93" cy="60.68" r="1.25" fill="#f0a033" />
<circle cx="249.13" cy="102.18" r="1.25" fill="#d2382a" />
<circle cx="179.48" cy="60.76" r="1.25" fill="#d2382a" />
<circle cx="186.01" cy="49.14" r="1.25" fill="#d2382a" />
<circle cx="189.75" cy="37.82" r="1.25" fill="#f0a033" />
<circle cx="188.21" cy="54.28" r="1.25" fill="#6cb043" />
<circle cx="186.74" cy="71.41" r="1.25" fill="#6cb043" />
<circle cx="178.71" cy="76.86" r="1.25" fill="#45b3c9" />
<circle cx="194.78" cy="79.59" r="1.25" fill="#45b3c9" />
<circle cx="199.07" cy="53.19" r="1.25" fill="#d2382a" />
<circle cx="180.51" cy="45.24" r="1.25" fill="#d2382a" />
<circle cx="195.01" cy="72.68" r="1.25" fill="#f0a033" />
<circle cx="221.94" cy="69.36" r="1.25" fill="#45b3c9" />
<circle cx="176.74" cy="99.99" r="1.25" fill="#d2382a" />
<circle cx="192.06" cy="56.48" r="1.25" fill="#f0a033" />
<circle cx="181.13" cy="61.03" r="1.25" fill="#6cb043" />
<circle cx="180.23" cy="44.11" r="1.25" fill="#e0cc34" />
<circle cx="217.38" cy="95.02" r="1.25" fill="#e0cc34" />
<circle cx="184.25" cy="54.81" r="1.25" fill="#e0cc34" />
<circle cx="178.85" cy="56.01" r="1.25" fill="#f0a033" />
<circle cx="183.93" cy="66.10" r="1.25" fill="#45b3c9" />
<circle cx="198.50" cy="80.30" r="1.25" fill="#45b3c9" />
<circle cx="188.31" cy="70.46" r="1.25" fill="#d2382a" />
<circle cx="207.55" cy="52.52" r="1.25" fill="#45b3c9" />
<circle cx="241.93" cy="63.96" r="1.25" fill="#6cb043" />
<circle cx="185.22" cy="79.47" r="1.25" fill="#d2382a" />
<circle cx="200.10" cy="53.17" r="1.25" fill="#6cb043" />
<circle cx="199.54" cy="51.43" r="1.25" fill="#45b3c9" />
<circle cx="177.41" cy="85.07" r="1.25" fill="#45b3c9" />
<circle cx="216.61" cy="62.52" r="1.25" fill="#f0a033" />
<circle cx="193.47" cy="71.01" r="1.25" fill="#f0a033" />
<circle cx="185.06" cy="102.67" r="1.25" fill="#d2382a" />
<circle cx="196.74" cy="48.35" r="1.25" fill="#6cb043" />
<circle cx="216.86" cy="88.32" r="1.25" fill="#d2382a" />
<circle cx="184.88" cy="60.07" r="1.25" fill="#e0cc34" />
<circle cx="198.11" cy="90.87" r="1.25" fill="#d2382a" />
<circle cx="176.97" cy="59.46" r="1.25" fill="#f0a033" />
<circle cx="182.82" cy="83.09" r="1.25" fill="#e0cc34" />
<circle cx="177.23" cy="108.70" r="1.25" fill="#6cb043" />
<circle cx="181.32" cy="61.80" r="1.25" fill="#d2382a" />
<circle cx="181.39" cy="62.36" r="1.25" fill="#e0cc34" />
<circle cx="211.70" cy="94.31" r="1.25" fill="#6cb043" />
<circle cx="227.73" cy="116.04" r="1.25" fill="#6cb043" />
<circle cx="206.64" cy="40.31" r="1.25" fill="#e0cc34" />
<circle cx="184.35" cy="82.16" r="1.25" fill="#6cb043" />
<circle cx="198.60" cy="72.68" r="1.25" fill="#f0a033" />
<circle cx="192.51" cy="75.02" r="1.25" fill="#f0a033" />
<circle cx="177.43" cy="42.23" r="1.25" fill="#f0a033" />
<circle cx="221.84" cy="100.65" r="1.25" fill="#45b3c9" />
<circle cx="182.85" cy="57.88" r="1.25" fill="#d2382a" />
<circle cx="217.54" cy="100.94" r="1.25" fill="#d2382a" />
<circle cx="177.55" cy="61.36" r="1.25" fill="#d2382a" />
<circle cx="182.70" cy="49.22" r="1.25" fill="#45b3c9" />
<circle cx="200.45" cy="100.07" r="1.25" fill="#45b3c9" />
<circle cx="187.03" cy="92.86" r="1.25" fill="#6cb043" />
<circle cx="209.32" cy="67.17" r="1.25" fill="#d2382a" />
<circle cx="198.55" cy="94.20" r="1.25" fill="#d2382a" />
<circle cx="221.85" cy="105.40" r="1.25" fill="#f0a033" />
<circle cx="183.01" cy="76.89" r="1.25" fill="#45b3c9" />
<circle cx="188.44" cy="59.77" r="1.25" fill="#6cb043" />
<circle cx="178.60" cy="72.86" r="1.25" fill="#d2382a" />
<circle cx="199.72" cy="51.13" r="1.25" fill="#e0cc34" />
<circle cx="230.11" cy="116.04" r="1.25" fill="#6cb043" />
<circle cx="235.07" cy="83.54" r="1.25" fill="#d2382a" />
<circle cx="179.55" cy="68.91" r="1.25" fill="#45b3c9" />
<circle cx="191.88" cy="60.81" r="1.25" fill="#45b3c9" />
<circle cx="184.00" cy="63.76" r="1.25" fill="#e0cc34" />
<circle cx="209.60" cy="70.24" r="1.25" fill="#f0a033" />
<circle cx="196.44" cy="53.04" r="1.25" fill="#f0a033" />
<circle cx="213.05" cy="39.73" r="1.25" fill="#45b3c9" />
<circle cx="180.38" cy="107.80" r="1.25" fill="#f0a033" />
<circle cx="189.97" cy="101.49" r="1.25" fill="#6cb043" />
<circle cx="180.50" cy="50.60" r="1.25" fill="#f0a033" />
<circle cx="207.75" cy="73.78" r="1.25" fill="#6cb043" />
<circle cx="184.56" cy="74.49" r="1.25" fill="#d2382a" />
<circle cx="188.45" cy="62.89" r="1.25" fill="#6cb043" />
<circle cx="195.53" cy="82.21" r="1.25" fill="#e0cc34" />
<circle cx="188.78" cy="39.77" r="1.25" fill="#f0a033" />
<circle cx="220.12" cy="57.37" r="1.25" fill="#6cb043" />
<circle cx="185.76" cy="80.81" r="1.25" fill="#45b3c9" />
<circle cx="184.97" cy="53.38" r="1.25" fill="#6cb043" />
<circle cx="192.28" cy="83.18" r="1.25" fill="#d2382a" />
<circle cx="196.04" cy="92.95" r="1.25" fill="#e0cc34" />
<circle cx="203.80" cy="52.63" r="1.25" fill="#6cb043" />
<circle cx="196.54" cy="55.27" r="1.25" fill="#d2382a" />
<circle cx="186.33" cy="47.99" r="1.25" fill="#45b3c9" />
<circle cx="188.85" cy="82.73" r="1.25" fill="#e0cc34" />
<circle cx="214.23" cy="99.22" r="1.25" fill="#d2382a" />
<circle cx="177.35" cy="59.44" r="1.25" fill="#45b3c9" />
<path d="M176.6,68.0 L256.9,78.8 L256.9,84.3 L176.6,71.0 Z" fill="#d8d8d8" stroke="none" stroke-width="0.9" opacity="0.7"/>
<line x1="176.60" y1="70.44" x2="256.92" y2="81.73" stroke="#1a1a1a" stroke-width="1.3" />
<text x="270.50" y="31.68" font-size="6.8" text-anchor="end" fill="#3a3a3a"><tspan font-style="italic">r</tspan><tspan font-size="4.2" dy="1.5">s</tspan><tspan dy="-1.5"> = −0.22</tspan></text>
<text x="270.50" y="40.88" font-size="6.8" text-anchor="end" fill="#3a3a3a"><tspan font-style="italic">P</tspan> &lt; .01</text>
<line x1="322.50" y1="15.00" x2="322.50" y2="118.50" stroke="#252525" stroke-width="1.0" />
<line x1="319.00" y1="19.50" x2="322.00" y2="19.50" stroke="#252525" stroke-width="1.0" />
<text x="316.00" y="21.93" font-size="6.615" text-anchor="end" fill="#3a3a3a">3000</text>
<line x1="319.00" y1="51.50" x2="322.00" y2="51.50" stroke="#252525" stroke-width="1.0" />
<text x="316.00" y="53.46" font-size="6.615" text-anchor="end" fill="#3a3a3a">2000</text>
<line x1="319.00" y1="82.50" x2="322.00" y2="82.50" stroke="#252525" stroke-width="1.0" />
<text x="316.00" y="84.99" font-size="6.615" text-anchor="end" fill="#3a3a3a">1000</text>
<line x1="319.00" y1="114.50" x2="322.00" y2="114.50" stroke="#252525" stroke-width="1.0" />
<text x="316.00" y="116.52" font-size="6.615" text-anchor="end" fill="#3a3a3a">0</text>
<line x1="322.00" y1="119.50" x2="418.00" y2="119.50" stroke="#252525" stroke-width="1.0" />
<line x1="322.50" y1="119.00" x2="322.50" y2="121.50" stroke="#252525" stroke-width="1.0" />
<text x="322.00" y="130.81" font-size="6.6" text-anchor="middle" fill="#3a3a3a">0</text>
<line x1="353.50" y1="119.00" x2="353.50" y2="121.50" stroke="#252525" stroke-width="1.0" />
<text x="353.70" y="130.81" font-size="6.6" text-anchor="middle" fill="#3a3a3a">100</text>
<line x1="385.50" y1="119.00" x2="385.50" y2="121.50" stroke="#252525" stroke-width="1.0" />
<text x="385.40" y="130.81" font-size="6.6" text-anchor="middle" fill="#3a3a3a">200</text>
<line x1="417.50" y1="119.00" x2="417.50" y2="121.50" stroke="#252525" stroke-width="1.0" />
<text x="417.10" y="130.81" font-size="6.6" text-anchor="middle" fill="#3a3a3a">300</text>
<text x="297.00" y="72.20" font-size="6.3" text-anchor="middle" fill="#3a3a3a" transform="rotate(-90 297.00 70.00)">Overall survival (days)</text>
<circle cx="330.29" cy="79.26" r="1.25" fill="#f0a033" />
<circle cx="331.93" cy="55.42" r="1.25" fill="#45b3c9" />
<circle cx="329.94" cy="53.61" r="1.25" fill="#6cb043" />
<circle cx="332.17" cy="51.20" r="1.25" fill="#d2382a" />
<circle cx="322.83" cy="33.63" r="1.25" fill="#45b3c9" />
<circle cx="322.97" cy="55.37" r="1.25" fill="#d2382a" />
<circle cx="337.16" cy="33.64" r="1.25" fill="#d2382a" />
<circle cx="328.29" cy="60.80" r="1.25" fill="#6cb043" />
<circle cx="345.77" cy="78.27" r="1.25" fill="#d2382a" />
<circle cx="335.78" cy="45.51" r="1.25" fill="#f0a033" />
<circle cx="323.75" cy="47.11" r="1.25" fill="#e0cc34" />
<circle cx="324.01" cy="42.85" r="1.25" fill="#45b3c9" />
<circle cx="331.03" cy="25.41" r="1.25" fill="#e0cc34" />
<circle cx="326.15" cy="52.88" r="1.25" fill="#6cb043" />
<circle cx="345.57" cy="80.69" r="1.25" fill="#e0cc34" />
<circle cx="324.28" cy="40.78" r="1.25" fill="#f0a033" />
<circle cx="329.12" cy="32.41" r="1.25" fill="#e0cc34" />
<circle cx="329.15" cy="61.31" r="1.25" fill="#6cb043" />
<circle cx="335.38" cy="37.72" r="1.25" fill="#6cb043" />
<circle cx="324.16" cy="70.38" r="1.25" fill="#45b3c9" />
<circle cx="332.67" cy="50.35" r="1.25" fill="#f0a033" />
<circle cx="326.60" cy="34.45" r="1.25" fill="#e0cc34" />
<circle cx="327.54" cy="59.12" r="1.25" fill="#f0a033" />
<circle cx="342.06" cy="53.29" r="1.25" fill="#6cb043" />
<circle cx="323.79" cy="25.80" r="1.25" fill="#45b3c9" />
<circle cx="335.06" cy="44.49" r="1.25" fill="#d2382a" />
<circle cx="324.59" cy="64.17" r="1.25" fill="#e0cc34" />
<circle cx="331.60" cy="65.22" r="1.25" fill="#6cb043" />
<circle cx="335.48" cy="36.93" r="1.25" fill="#d2382a" />
<circle cx="330.14" cy="80.33" r="1.25" fill="#45b3c9" />
<circle cx="365.53" cy="82.72" r="1.25" fill="#f0a033" />
<circle cx="354.85" cy="94.58" r="1.25" fill="#d2382a" />
<circle cx="340.09" cy="95.19" r="1.25" fill="#e0cc34" />
<circle cx="333.44" cy="82.21" r="1.25" fill="#d2382a" />
<circle cx="358.66" cy="85.95" r="1.25" fill="#6cb043" />
<circle cx="369.52" cy="82.37" r="1.25" fill="#f0a033" />
<circle cx="358.85" cy="86.53" r="1.25" fill="#45b3c9" />
<circle cx="359.75" cy="85.40" r="1.25" fill="#d2382a" />
<circle cx="357.92" cy="85.62" r="1.25" fill="#e0cc34" />
<circle cx="334.80" cy="85.82" r="1.25" fill="#6cb043" />
<circle cx="349.58" cy="84.46" r="1.25" fill="#e0cc34" />
<circle cx="328.11" cy="92.71" r="1.25" fill="#f0a033" />
<circle cx="324.23" cy="84.29" r="1.25" fill="#45b3c9" />
<circle cx="377.06" cy="85.98" r="1.25" fill="#f0a033" />
<circle cx="344.22" cy="83.61" r="1.25" fill="#6cb043" />
<circle cx="369.37" cy="87.31" r="1.25" fill="#e0cc34" />
<circle cx="322.68" cy="108.32" r="1.25" fill="#d2382a" />
<circle cx="334.24" cy="111.33" r="1.25" fill="#6cb043" />
<circle cx="342.59" cy="110.01" r="1.25" fill="#6cb043" />
<circle cx="326.86" cy="113.26" r="1.25" fill="#6cb043" />
<circle cx="326.09" cy="113.39" r="1.25" fill="#d2382a" />
<circle cx="343.21" cy="105.61" r="1.25" fill="#6cb043" />
<circle cx="353.60" cy="107.12" r="1.25" fill="#d2382a" />
<circle cx="324.52" cy="113.81" r="1.25" fill="#6cb043" />
<circle cx="338.11" cy="108.15" r="1.25" fill="#6cb043" />
<circle cx="363.19" cy="106.76" r="1.25" fill="#d2382a" />
<circle cx="338.15" cy="113.10" r="1.25" fill="#45b3c9" />
<circle cx="340.27" cy="108.23" r="1.25" fill="#45b3c9" />
<circle cx="324.14" cy="110.33" r="1.25" fill="#d2382a" />
<circle cx="323.54" cy="114.13" r="1.25" fill="#d2382a" />
<circle cx="325.26" cy="110.97" r="1.25" fill="#f0a033" />
<circle cx="328.66" cy="113.57" r="1.25" fill="#e0cc34" />
<circle cx="327.68" cy="111.54" r="1.25" fill="#6cb043" />
<circle cx="347.11" cy="112.97" r="1.25" fill="#6cb043" />
<circle cx="323.25" cy="102.93" r="1.25" fill="#6cb043" />
<circle cx="323.95" cy="112.14" r="1.25" fill="#d2382a" />
<circle cx="325.77" cy="103.36" r="1.25" fill="#d2382a" />
<circle cx="337.78" cy="105.36" r="1.25" fill="#d2382a" />
<circle cx="341.25" cy="109.27" r="1.25" fill="#d2382a" />
<circle cx="326.46" cy="106.74" r="1.25" fill="#6cb043" />
<circle cx="333.06" cy="112.01" r="1.25" fill="#d2382a" />
<circle cx="346.56" cy="111.75" r="1.25" fill="#e0cc34" />
<circle cx="324.72" cy="114.11" r="1.25" fill="#6cb043" />
<circle cx="339.08" cy="103.82" r="1.25" fill="#45b3c9" />
<circle cx="334.00" cy="111.33" r="1.25" fill="#45b3c9" />
<circle cx="323.23" cy="110.06" r="1.25" fill="#d2382a" />
<circle cx="333.75" cy="108.06" r="1.25" fill="#d2382a" />
<circle cx="336.11" cy="111.76" r="1.25" fill="#d2382a" />
<circle cx="337.18" cy="110.82" r="1.25" fill="#f0a033" />
<circle cx="325.93" cy="110.72" r="1.25" fill="#d2382a" />
<circle cx="326.42" cy="107.90" r="1.25" fill="#45b3c9" />
<circle cx="335.71" cy="106.48" r="1.25" fill="#d2382a" />
<circle cx="335.61" cy="110.82" r="1.25" fill="#e0cc34" />
<circle cx="330.62" cy="97.93" r="1.25" fill="#e0cc34" />
<circle cx="326.43" cy="105.44" r="1.25" fill="#e0cc34" />
<circle cx="323.48" cy="111.83" r="1.25" fill="#d2382a" />
<circle cx="346.38" cy="112.44" r="1.25" fill="#f0a033" />
<circle cx="328.66" cy="108.69" r="1.25" fill="#45b3c9" />
<circle cx="356.35" cy="102.41" r="1.25" fill="#45b3c9" />
<circle cx="332.50" cy="106.00" r="1.25" fill="#f0a033" />
<circle cx="328.04" cy="107.35" r="1.25" fill="#f0a033" />
<circle cx="333.76" cy="109.84" r="1.25" fill="#6cb043" />
<circle cx="330.56" cy="105.57" r="1.25" fill="#d2382a" />
<circle cx="344.86" cy="106.55" r="1.25" fill="#e0cc34" />
<circle cx="322.19" cy="113.81" r="1.25" fill="#6cb043" />
<circle cx="323.36" cy="106.96" r="1.25" fill="#6cb043" />
<circle cx="346.95" cy="107.59" r="1.25" fill="#d2382a" />
<circle cx="325.54" cy="112.87" r="1.25" fill="#e0cc34" />
<circle cx="336.47" cy="103.22" r="1.25" fill="#45b3c9" />
<circle cx="335.87" cy="107.51" r="1.25" fill="#6cb043" />
<circle cx="326.62" cy="100.81" r="1.25" fill="#d2382a" />
<circle cx="330.45" cy="104.33" r="1.25" fill="#e0cc34" />
<circle cx="334.53" cy="110.90" r="1.25" fill="#d2382a" />
<circle cx="339.32" cy="109.71" r="1.25" fill="#d2382a" />
<circle cx="325.11" cy="109.76" r="1.25" fill="#45b3c9" />
<circle cx="322.04" cy="98.13" r="1.25" fill="#e0cc34" />
<circle cx="324.17" cy="104.77" r="1.25" fill="#d2382a" />
<circle cx="329.79" cy="107.23" r="1.25" fill="#f0a033" />
<circle cx="325.27" cy="109.08" r="1.25" fill="#d2382a" />
<circle cx="322.20" cy="101.91" r="1.25" fill="#45b3c9" />
<circle cx="328.57" cy="113.46" r="1.25" fill="#45b3c9" />
<circle cx="331.49" cy="103.02" r="1.25" fill="#e0cc34" />
<circle cx="324.24" cy="105.12" r="1.25" fill="#d2382a" />
<circle cx="348.30" cy="105.49" r="1.25" fill="#6cb043" />
<circle cx="339.87" cy="113.12" r="1.25" fill="#e0cc34" />
<circle cx="330.69" cy="111.81" r="1.25" fill="#d2382a" />
<circle cx="325.55" cy="110.11" r="1.25" fill="#f0a033" />
<circle cx="326.55" cy="107.92" r="1.25" fill="#d2382a" />
<circle cx="336.79" cy="111.43" r="1.25" fill="#45b3c9" />
<circle cx="330.95" cy="113.77" r="1.25" fill="#e0cc34" />
<circle cx="374.13" cy="107.63" r="1.25" fill="#45b3c9" />
<circle cx="327.28" cy="111.86" r="1.25" fill="#d2382a" />
<circle cx="340.74" cy="105.16" r="1.25" fill="#f0a033" />
<circle cx="333.89" cy="106.43" r="1.25" fill="#f0a033" />
<circle cx="332.78" cy="107.25" r="1.25" fill="#d2382a" />
<circle cx="326.11" cy="113.97" r="1.25" fill="#45b3c9" />
<circle cx="353.73" cy="113.36" r="1.25" fill="#d2382a" />
<circle cx="342.44" cy="113.43" r="1.25" fill="#d2382a" />
<circle cx="324.01" cy="102.18" r="1.25" fill="#6cb043" />
<circle cx="356.28" cy="106.67" r="1.25" fill="#45b3c9" />
<circle cx="325.17" cy="101.45" r="1.25" fill="#6cb043" />
<circle cx="333.82" cy="112.99" r="1.25" fill="#45b3c9" />
<circle cx="332.32" cy="113.10" r="1.25" fill="#6cb043" />
<circle cx="324.79" cy="111.57" r="1.25" fill="#d2382a" />
<circle cx="341.21" cy="111.41" r="1.25" fill="#6cb043" />
<circle cx="334.07" cy="108.62" r="1.25" fill="#6cb043" />
<circle cx="354.88" cy="109.24" r="1.25" fill="#45b3c9" />
<circle cx="341.68" cy="110.52" r="1.25" fill="#e0cc34" />
<circle cx="328.40" cy="112.09" r="1.25" fill="#e0cc34" />
<circle cx="333.82" cy="112.85" r="1.25" fill="#d2382a" />
<circle cx="342.84" cy="110.29" r="1.25" fill="#45b3c9" />
<circle cx="344.71" cy="111.41" r="1.25" fill="#45b3c9" />
<circle cx="335.53" cy="109.49" r="1.25" fill="#45b3c9" />
<circle cx="344.12" cy="99.00" r="1.25" fill="#d2382a" />
<circle cx="333.21" cy="113.94" r="1.25" fill="#d2382a" />
<circle cx="333.83" cy="112.92" r="1.25" fill="#6cb043" />
<circle cx="342.46" cy="102.20" r="1.25" fill="#e0cc34" />
<circle cx="346.93" cy="106.74" r="1.25" fill="#45b3c9" />
<circle cx="348.64" cy="110.65" r="1.25" fill="#d2382a" />
<circle cx="327.74" cy="104.51" r="1.25" fill="#d2382a" />
<circle cx="327.35" cy="113.99" r="1.25" fill="#d2382a" />
<circle cx="328.89" cy="113.60" r="1.25" fill="#f0a033" />
<circle cx="366.67" cy="113.67" r="1.25" fill="#d2382a" />
<circle cx="336.21" cy="113.73" r="1.25" fill="#6cb043" />
<circle cx="358.04" cy="114.12" r="1.25" fill="#d2382a" />
<circle cx="337.40" cy="114.00" r="1.25" fill="#f0a033" />
<circle cx="327.90" cy="113.82" r="1.25" fill="#45b3c9" />
<circle cx="330.02" cy="114.01" r="1.25" fill="#e0cc34" />
<circle cx="328.81" cy="113.67" r="1.25" fill="#45b3c9" />
<circle cx="322.60" cy="113.63" r="1.25" fill="#d2382a" />
<circle cx="331.28" cy="114.17" r="1.25" fill="#6cb043" />
<circle cx="366.11" cy="114.03" r="1.25" fill="#45b3c9" />
<circle cx="366.41" cy="113.52" r="1.25" fill="#e0cc34" />
<circle cx="364.26" cy="114.09" r="1.25" fill="#45b3c9" />
<circle cx="343.27" cy="114.12" r="1.25" fill="#f0a033" />
<circle cx="366.16" cy="113.54" r="1.25" fill="#f0a033" />
<circle cx="351.88" cy="113.84" r="1.25" fill="#d2382a" />
<circle cx="338.16" cy="113.55" r="1.25" fill="#d2382a" />
<circle cx="344.71" cy="113.70" r="1.25" fill="#e0cc34" />
<circle cx="328.79" cy="114.03" r="1.25" fill="#45b3c9" />
<circle cx="324.70" cy="113.64" r="1.25" fill="#45b3c9" />
<circle cx="348.31" cy="114.09" r="1.25" fill="#45b3c9" />
<circle cx="363.40" cy="113.99" r="1.25" fill="#f0a033" />
<circle cx="341.58" cy="114.08" r="1.25" fill="#6cb043" />
<circle cx="334.89" cy="113.54" r="1.25" fill="#d2382a" />
<circle cx="337.91" cy="114.07" r="1.25" fill="#d2382a" />
<circle cx="345.35" cy="113.95" r="1.25" fill="#6cb043" />
<circle cx="394.91" cy="113.57" r="1.25" fill="#6cb043" />
<circle cx="400.62" cy="113.88" r="1.25" fill="#6cb043" />
<path d="M322.0,93.8 L401.2,104.9 L401.2,110.9 L322.0,96.8 Z" fill="#d8d8d8" stroke="none" stroke-width="0.9" opacity="0.7"/>
<line x1="322.00" y1="95.28" x2="401.25" y2="107.89" stroke="#1a1a1a" stroke-width="1.3" />
<text x="408.50" y="47.68" font-size="6.8" text-anchor="end" fill="#3a3a3a"><tspan font-style="italic">r</tspan><tspan font-size="4.2" dy="1.5">s</tspan><tspan dy="-1.5"> = −0.18</tspan></text>
<text x="408.50" y="57.38" font-size="6.8" text-anchor="end" fill="#3a3a3a"><tspan font-style="italic">P</tspan> &lt; .05</text>
<line x1="189.00" y1="139.50" x2="251.00" y2="139.50" stroke="#252525" stroke-width="0.9" />
<text x="292.50" y="141.58" font-size="6.5" text-anchor="middle" fill="#3a3a3a">WBC count (×10^9 cells/L)</text>
<line x1="333.00" y1="139.50" x2="394.00" y2="139.50" stroke="#252525" stroke-width="0.9" />
<text x="420.00" y="41.19" font-size="6.25" text-anchor="start" fill="#3a3a3a">Colors apply to Fig 5, A, B:</text>
<circle cx="421.80" cy="50.40" r="2.1" fill="#4a6a9c" />
<text x="427.40" y="52.59" font-size="6.25" text-anchor="start" fill="#3a3a3a">Healthy CD34+</text>
<circle cx="476.20" cy="50.40" r="2.1" fill="#e0c832" />
<text x="481.80" y="52.59" font-size="6.25" text-anchor="start" fill="#3a3a3a">ASXL1<tspan font-size="3.8" dy="-2.2">mut</tspan></text>
<circle cx="421.80" cy="59.80" r="2.1" fill="#4ec0c4" />
<text x="427.40" y="61.99" font-size="6.25" text-anchor="start" fill="#3a3a3a">TET2<tspan font-size="3.8" dy="-2.2">mut</tspan></text>
<circle cx="476.20" cy="59.80" r="2.1" fill="#f09a32" />
<text x="481.80" y="61.99" font-size="6.25" text-anchor="start" fill="#3a3a3a">IDH2<tspan font-size="3.8" dy="-2.2">mut</tspan></text>
<circle cx="421.80" cy="69.00" r="2.1" fill="#7ab062" />
<text x="427.40" y="71.19" font-size="6.25" text-anchor="start" fill="#3a3a3a">DNMT3A<tspan font-size="3.8" dy="-2.2">mut</tspan></text>
<circle cx="476.20" cy="69.00" r="2.1" fill="#d04032" />
<text x="481.80" y="71.19" font-size="6.25" text-anchor="start" fill="#3a3a3a">NPM1<tspan font-size="3.8" dy="-2.2">mut</tspan></text>
<text x="420.00" y="86.59" font-size="6.25" text-anchor="start" fill="#3a3a3a">Colors apply to Fig 5, D, E, G, H, K:</text>
<circle cx="421.80" cy="96.40" r="2.1" fill="#1a3a7a" />
<text x="427.40" y="98.59" font-size="6.25" text-anchor="start" fill="#3a3a3a">NT sgRNA</text>
<circle cx="466.60" cy="96.40" r="2.1" fill="#a01020" />
<text x="471.60" y="98.59" font-size="6.25" text-anchor="start" fill="#3a3a3a">Rbm25 sgRNA</text>
<text x="6.50" y="185.35" font-size="11" font-weight="bold" fill="#000" style="stroke:none">C</text>
<g transform="translate(18.80 208.20) scale(1.0)">
<path d="M5.5,0.3 C9,0 12.5,0.5 13.8,3 C15,6 11,9 8.5,10.5 C6,12 2,12.8 0.8,11 C-0.3,9 1,5 2.5,3 C3.3,1.5 4,0.5 5.5,0.3 Z" fill="#fff" stroke="#333" stroke-width="0.90"/>
<circle cx="7.5" cy="4.3" r="2.1" fill="#aaa" stroke="#444" stroke-width="0.70"/>
</g>
<g transform="translate(31.80 216.80) scale(1.0)">
<path d="M5.5,0.3 C9,0 12.5,0.5 13.8,3 C15,6 11,9 8.5,10.5 C6,12 2,12.8 0.8,11 C-0.3,9 1,5 2.5,3 C3.3,1.5 4,0.5 5.5,0.3 Z" fill="#fff" stroke="#333" stroke-width="0.90"/>
<circle cx="7.5" cy="4.3" r="2.1" fill="#aaa" stroke="#444" stroke-width="0.70"/>
</g>
<g transform="translate(15.00 225.00) scale(1.0)">
<path d="M5.5,0.3 C9,0 12.5,0.5 13.8,3 C15,6 11,9 8.5,10.5 C6,12 2,12.8 0.8,11 C-0.3,9 1,5 2.5,3 C3.3,1.5 4,0.5 5.5,0.3 Z" fill="#fff" stroke="#333" stroke-width="0.90"/>
<circle cx="7.5" cy="4.3" r="2.1" fill="#aaa" stroke="#444" stroke-width="0.70"/>
</g>
<g transform="translate(28.90 232.20) scale(1.0)">
<path d="M5.5,0.3 C9,0 12.5,0.5 13.8,3 C15,6 11,9 8.5,10.5 C6,12 2,12.8 0.8,11 C-0.3,9 1,5 2.5,3 C3.3,1.5 4,0.5 5.5,0.3 Z" fill="#fff" stroke="#333" stroke-width="0.90"/>
<circle cx="7.5" cy="4.3" r="2.1" fill="#aaa" stroke="#444" stroke-width="0.70"/>
</g>
<g transform="translate(68.30 208.20) scale(1.0)">
<path d="M5.5,0.3 C9,0 12.5,0.5 13.8,3 C15,6 11,9 8.5,10.5 C6,12 2,12.8 0.8,11 C-0.3,9 1,5 2.5,3 C3.3,1.5 4,0.5 5.5,0.3 Z" fill="#fff" stroke="#4e6274" stroke-width="0.90"/>
<circle cx="7.5" cy="4.3" r="2.1" fill="#c0703a" stroke="#9a5428" stroke-width="0.70"/>
</g>
<g transform="translate(81.30 216.80) scale(1.0)">
<path d="M5.5,0.3 C9,0 12.5,0.5 13.8,3 C15,6 11,9 8.5,10.5 C6,12 2,12.8 0.8,11 C-0.3,9 1,5 2.5,3 C3.3,1.5 4,0.5 5.5,0.3 Z" fill="#fff" stroke="#4e6274" stroke-width="0.90"/>
<circle cx="7.5" cy="4.3" r="2.1" fill="#c0703a" stroke="#9a5428" stroke-width="0.70"/>
</g>
<g transform="translate(64.50 225.00) scale(1.0)">
<path d="M5.5,0.3 C9,0 12.5,0.5 13.8,3 C15,6 11,9 8.5,10.5 C6,12 2,12.8 0.8,11 C-0.3,9 1,5 2.5,3 C3.3,1.5 4,0.5 5.5,0.3 Z" fill="#fff" stroke="#4e6274" stroke-width="0.90"/>
<circle cx="7.5" cy="4.3" r="2.1" fill="#c0703a" stroke="#9a5428" stroke-width="0.70"/>
</g>
<g transform="translate(78.40 232.20) scale(1.0)">
<path d="M5.5,0.3 C9,0 12.5,0.5 13.8,3 C15,6 11,9 8.5,10.5 C6,12 2,12.8 0.8,11 C-0.3,9 1,5 2.5,3 C3.3,1.5 4,0.5 5.5,0.3 Z" fill="#fff" stroke="#4e6274" stroke-width="0.90"/>
<circle cx="7.5" cy="4.3" r="2.1" fill="#c0703a" stroke="#9a5428" stroke-width="0.70"/>
</g>
<line x1="47.20" y1="229.50" x2="59.30" y2="229.50" stroke="#111" stroke-width="0.9" />
<path d="M62.00,229.30 L58.80,227.70 L58.80,230.90 Z" fill="#111"/>
<g transform="translate(126.40 207.40) scale(0.75)">
<path d="M5.5,0.3 C9,0 12.5,0.5 13.8,3 C15,6 11,9 8.5,10.5 C6,12 2,12.8 0.8,11 C-0.3,9 1,5 2.5,3 C3.3,1.5 4,0.5 5.5,0.3 Z" fill="#78b446" stroke="#2d3a1c" stroke-width="1.20"/>
<circle cx="7.5" cy="4.3" r="2.1" fill="#a6cf6a" stroke="#2d3a1c" stroke-width="0.93"/>
</g>
<g transform="translate(119.00 216.30) scale(0.75)">
<path d="M5.5,0.3 C9,0 12.5,0.5 13.8,3 C15,6 11,9 8.5,10.5 C6,12 2,12.8 0.8,11 C-0.3,9 1,5 2.5,3 C3.3,1.5 4,0.5 5.5,0.3 Z" fill="#78b446" stroke="#2d3a1c" stroke-width="1.20"/>
<circle cx="7.5" cy="4.3" r="2.1" fill="#a6cf6a" stroke="#2d3a1c" stroke-width="0.93"/>
</g>
<g transform="translate(130.50 216.30) scale(0.75)">
<path d="M5.5,0.3 C9,0 12.5,0.5 13.8,3 C15,6 11,9 8.5,10.5 C6,12 2,12.8 0.8,11 C-0.3,9 1,5 2.5,3 C3.3,1.5 4,0.5 5.5,0.3 Z" fill="#78b446" stroke="#2d3a1c" stroke-width="1.20"/>
<circle cx="7.5" cy="4.3" r="2.1" fill="#a6cf6a" stroke="#2d3a1c" stroke-width="0.93"/>
</g>
<g transform="translate(119.00 230.20) scale(0.75)">
<path d="M5.5,0.3 C9,0 12.5,0.5 13.8,3 C15,6 11,9 8.5,10.5 C6,12 2,12.8 0.8,11 C-0.3,9 1,5 2.5,3 C3.3,1.5 4,0.5 5.5,0.3 Z" fill="#2a96d4" stroke="#17324d" stroke-width="1.20"/>
<circle cx="7.5" cy="4.3" r="2.1" fill="#5bb4e6" stroke="#17324d" stroke-width="0.93"/>
</g>
<g transform="translate(130.50 230.20) scale(0.75)">
<path d="M5.5,0.3 C9,0 12.5,0.5 13.8,3 C15,6 11,9 8.5,10.5 C6,12 2,12.8 0.8,11 C-0.3,9 1,5 2.5,3 C3.3,1.5 4,0.5 5.5,0.3 Z" fill="#2a96d4" stroke="#17324d" stroke-width="1.20"/>
<circle cx="7.5" cy="4.3" r="2.1" fill="#5bb4e6" stroke="#17324d" stroke-width="0.93"/>
</g>
<g transform="translate(123.20 239.20) scale(0.75)">
<path d="M5.5,0.3 C9,0 12.5,0.5 13.8,3 C15,6 11,9 8.5,10.5 C6,12 2,12.8 0.8,11 C-0.3,9 1,5 2.5,3 C3.3,1.5 4,0.5 5.5,0.3 Z" fill="#2a96d4" stroke="#17324d" stroke-width="1.20"/>
<circle cx="7.5" cy="4.3" r="2.1" fill="#5bb4e6" stroke="#17324d" stroke-width="0.93"/>
</g>
<g transform="translate(177.90 207.40) scale(0.75)">
<path d="M5.5,0.3 C9,0 12.5,0.5 13.8,3 C15,6 11,9 8.5,10.5 C6,12 2,12.8 0.8,11 C-0.3,9 1,5 2.5,3 C3.3,1.5 4,0.5 5.5,0.3 Z" fill="#78b446" stroke="#2d3a1c" stroke-width="1.20"/>
<path d="M5.5,0.3 C9,0 12.5,0.5 13.8,3 C15,6 11,9 8.5,10.5 C7.5,8 7,5 5.5,0.3 Z" fill="#e03a25" stroke="none"/>
<path d="M5.5,0.3 C9,0 12.5,0.5 13.8,3 C15,6 11,9 8.5,10.5 C6,12 2,12.8 0.8,11 C-0.3,9 1,5 2.5,3 C3.3,1.5 4,0.5 5.5,0.3 Z" fill="none" stroke="#2d3a1c" stroke-width="1.20"/>
<circle cx="7.5" cy="4.3" r="2.1" fill="#e8c0a0" stroke="#2d3a1c" stroke-width="0.93"/>
</g>
<g transform="translate(170.60 216.30) scale(0.75)">
<path d="M5.5,0.3 C9,0 12.5,0.5 13.8,3 C15,6 11,9 8.5,10.5 C6,12 2,12.8 0.8,11 C-0.3,9 1,5 2.5,3 C3.3,1.5 4,0.5 5.5,0.3 Z" fill="#78b446" stroke="#2d3a1c" stroke-width="1.20"/>
<path d="M5.5,0.3 C9,0 12.5,0.5 13.8,3 C15,6 11,9 8.5,10.5 C7.5,8 7,5 5.5,0.3 Z" fill="#e03a25" stroke="none"/>
<path d="M5.5,0.3 C9,0 12.5,0.5 13.8,3 C15,6 11,9 8.5,10.5 C6,12 2,12.8 0.8,11 C-0.3,9 1,5 2.5,3 C3.3,1.5 4,0.5 5.5,0.3 Z" fill="none" stroke="#2d3a1c" stroke-width="1.20"/>
<circle cx="7.5" cy="4.3" r="2.1" fill="#e8c0a0" stroke="#2d3a1c" stroke-width="0.93"/>
</g>
<g transform="translate(182.80 216.30) scale(0.75)">
<path d="M5.5,0.3 C9,0 12.5,0.5 13.8,3 C15,6 11,9 8.5,10.5 C6,12 2,12.8 0.8,11 C-0.3,9 1,5 2.5,3 C3.3,1.5 4,0.5 5.5,0.3 Z" fill="#78b446" stroke="#2d3a1c" stroke-width="1.20"/>
<path d="M5.5,0.3 C9,0 12.5,0.5 13.8,3 C15,6 11,9 8.5,10.5 C7.5,8 7,5 5.5,0.3 Z" fill="#e03a25" stroke="none"/>
<path d="M5.5,0.3 C9,0 12.5,0.5 13.8,3 C15,6 11,9 8.5,10.5 C6,12 2,12.8 0.8,11 C-0.3,9 1,5 2.5,3 C3.3,1.5 4,0.5 5.5,0.3 Z" fill="none" stroke="#2d3a1c" stroke-width="1.20"/>
<circle cx="7.5" cy="4.3" r="2.1" fill="#e8c0a0" stroke="#2d3a1c" stroke-width="0.93"/>
</g>
<g transform="translate(170.60 230.20) scale(0.75)">
<path d="M5.5,0.3 C9,0 12.5,0.5 13.8,3 C15,6 11,9 8.5,10.5 C6,12 2,12.8 0.8,11 C-0.3,9 1,5 2.5,3 C3.3,1.5 4,0.5 5.5,0.3 Z" fill="#2a96d4" stroke="#17324d" stroke-width="1.20"/>
<path d="M5.5,0.3 C9,0 12.5,0.5 13.8,3 C15,6 11,9 8.5,10.5 C7.5,8 7,5 5.5,0.3 Z" fill="#e03a25" stroke="none"/>
<path d="M5.5,0.3 C9,0 12.5,0.5 13.8,3 C15,6 11,9 8.5,10.5 C6,12 2,12.8 0.8,11 C-0.3,9 1,5 2.5,3 C3.3,1.5 4,0.5 5.5,0.3 Z" fill="none" stroke="#17324d" stroke-width="1.20"/>
<circle cx="7.5" cy="4.3" r="2.1" fill="#e8b0b0" stroke="#17324d" stroke-width="0.93"/>
</g>
<g transform="translate(182.80 230.20) scale(0.75)">
<path d="M5.5,0.3 C9,0 12.5,0.5 13.8,3 C15,6 11,9 8.5,10.5 C6,12 2,12.8 0.8,11 C-0.3,9 1,5 2.5,3 C3.3,1.5 4,0.5 5.5,0.3 Z" fill="#2a96d4" stroke="#17324d" stroke-width="1.20"/>
<path d="M5.5,0.3 C9,0 12.5,0.5 13.8,3 C15,6 11,9 8.5,10.5 C7.5,8 7,5 5.5,0.3 Z" fill="#e03a25" stroke="none"/>
<path d="M5.5,0.3 C9,0 12.5,0.5 13.8,3 C15,6 11,9 8.5,10.5 C6,12 2,12.8 0.8,11 C-0.3,9 1,5 2.5,3 C3.3,1.5 4,0.5 5.5,0.3 Z" fill="none" stroke="#17324d" stroke-width="1.20"/>
<circle cx="7.5" cy="4.3" r="2.1" fill="#e8b0b0" stroke="#17324d" stroke-width="0.93"/>
</g>
<g transform="translate(176.30 239.20) scale(0.75)">
<path d="M5.5,0.3 C9,0 12.5,0.5 13.8,3 C15,6 11,9 8.5,10.5 C6,12 2,12.8 0.8,11 C-0.3,9 1,5 2.5,3 C3.3,1.5 4,0.5 5.5,0.3 Z" fill="#2a96d4" stroke="#17324d" stroke-width="1.20"/>
<path d="M5.5,0.3 C9,0 12.5,0.5 13.8,3 C15,6 11,9 8.5,10.5 C7.5,8 7,5 5.5,0.3 Z" fill="#e03a25" stroke="none"/>
<path d="M5.5,0.3 C9,0 12.5,0.5 13.8,3 C15,6 11,9 8.5,10.5 C6,12 2,12.8 0.8,11 C-0.3,9 1,5 2.5,3 C3.3,1.5 4,0.5 5.5,0.3 Z" fill="none" stroke="#17324d" stroke-width="1.20"/>
<circle cx="7.5" cy="4.3" r="2.1" fill="#e8b0b0" stroke="#17324d" stroke-width="0.93"/>
</g>
<line x1="99.60" y1="221.50" x2="111.90" y2="221.50" stroke="#111" stroke-width="0.9" />
<path d="M114.60,221.20 L111.40,219.60 L111.40,222.80 Z" fill="#111"/>
<line x1="99.60" y1="237.50" x2="111.90" y2="237.50" stroke="#111" stroke-width="0.9" />
<path d="M114.60,237.90 L111.40,236.30 L111.40,239.50 Z" fill="#111"/>
<line x1="147.70" y1="221.50" x2="159.70" y2="221.50" stroke="#111" stroke-width="0.9" />
<path d="M162.40,221.20 L159.20,219.60 L159.20,222.80 Z" fill="#111"/>
<line x1="147.70" y1="237.50" x2="159.70" y2="237.50" stroke="#111" stroke-width="0.9" />
<path d="M162.40,237.90 L159.20,236.30 L159.20,239.50 Z" fill="#111"/>
<text x="54.70" y="187.11" font-size="6.9" text-anchor="middle" fill="#3a3a3a" textLength="36" lengthAdjust="spacingAndGlyphs">Electroporate</text>
<text x="54.70" y="193.91" font-size="6.9" text-anchor="middle" fill="#3a3a3a" textLength="31.7" lengthAdjust="spacingAndGlyphs">RNP Cas9 &amp;</text>
<text x="54.70" y="200.61" font-size="6.9" text-anchor="middle" fill="#3a3a3a" textLength="29.8" lengthAdjust="spacingAndGlyphs">Tet2 sgRNA</text>
<text x="107.90" y="187.11" font-size="6.9" text-anchor="middle" fill="#3a3a3a" textLength="27" lengthAdjust="spacingAndGlyphs">Transduce</text>
<text x="107.90" y="193.91" font-size="6.9" text-anchor="middle" fill="#3a3a3a" textLength="44.2" lengthAdjust="spacingAndGlyphs">CRISPRi (GFP) or</text>
<text x="107.90" y="200.61" font-size="6.9" text-anchor="middle" fill="#3a3a3a" textLength="37.5" lengthAdjust="spacingAndGlyphs">CRISPRa (BFP)</text>
<text x="107.90" y="207.31" font-size="6.9" text-anchor="middle" fill="#3a3a3a" textLength="24" lengthAdjust="spacingAndGlyphs">lentivirus</text>
<text x="155.80" y="187.11" font-size="6.9" text-anchor="middle" fill="#3a3a3a" textLength="27" lengthAdjust="spacingAndGlyphs">Transduce</text>
<text x="155.80" y="193.91" font-size="6.9" text-anchor="middle" fill="#3a3a3a" textLength="25" lengthAdjust="spacingAndGlyphs">NT/Rbm25</text>
<text x="155.80" y="200.61" font-size="6.9" text-anchor="middle" fill="#3a3a3a" textLength="33.5" lengthAdjust="spacingAndGlyphs">sgRNA (RFP)</text>
<text x="155.80" y="207.31" font-size="6.9" text-anchor="middle" fill="#3a3a3a" textLength="24" lengthAdjust="spacingAndGlyphs">lentivirus</text>
<text x="28.60" y="266.31" font-size="6.9" text-anchor="middle" fill="#3a3a3a" textLength="29.8" lengthAdjust="spacingAndGlyphs">BB88 &amp; M1</text>
<text x="28.60" y="273.12" font-size="6.9" text-anchor="middle" fill="#3a3a3a" textLength="44.3" lengthAdjust="spacingAndGlyphs">leukemic cell line</text>
<text x="78.85" y="269.42" font-size="6.9" text-anchor="middle" fill="#3a3a3a" textLength="20.7" lengthAdjust="spacingAndGlyphs">Tet2 KO</text>
<text x="128.30" y="262.52" font-size="6.9" text-anchor="middle" fill="#3a3a3a" textLength="25.9" lengthAdjust="spacingAndGlyphs">Tet2 KO &amp;</text>
<text x="128.30" y="269.22" font-size="6.9" text-anchor="middle" fill="#3a3a3a" textLength="23" lengthAdjust="spacingAndGlyphs">CRISPRi/a</text>
<text x="128.30" y="276.12" font-size="6.9" text-anchor="middle" fill="#3a3a3a" textLength="26.3" lengthAdjust="spacingAndGlyphs">(GFP/BFP)</text>
<text x="181.60" y="262.52" font-size="6.9" text-anchor="middle" fill="#3a3a3a" textLength="26.3" lengthAdjust="spacingAndGlyphs">Tet2 KO &amp;</text>
<text x="181.60" y="269.22" font-size="6.9" text-anchor="middle" fill="#3a3a3a" textLength="22.8" lengthAdjust="spacingAndGlyphs">CRISPRi/a</text>
<text x="181.60" y="276.12" font-size="6.9" text-anchor="middle" fill="#3a3a3a" textLength="31.7" lengthAdjust="spacingAndGlyphs">(GFP/BFP) &amp;</text>
<text x="181.60" y="283.22" font-size="6.9" text-anchor="middle" fill="#3a3a3a" textLength="32.6" lengthAdjust="spacingAndGlyphs">sgRNA (RFP)</text>
<text x="219.00" y="185.85" font-size="11" font-weight="bold" fill="#000" style="stroke:none">D</text>
<text x="235.40" y="185.23" font-size="7.8" text-anchor="start" fill="#222" style="stroke:#222;stroke-width:0.18px">Rbm25 CRISPRi in Tet2 KO cells</text>
<text x="273.80" y="196.05" font-size="7" text-anchor="middle" fill="#3a3a3a" style="stroke:#3a3a3a;stroke-width:0.16px">BB88</text>
<text x="337.50" y="196.05" font-size="7" text-anchor="middle" fill="#3a3a3a" style="stroke:#3a3a3a;stroke-width:0.16px">M1</text>
<text x="0" y="0" font-size="7.2" fill="#3a3a3a" text-anchor="middle" textLength="77" lengthAdjust="spacingAndGlyphs" transform="translate(232.3 238.7) rotate(-90)">Cell proliferation (A490 nm)</text>
<line x1="255.50" y1="200.50" x2="255.50" y2="277.70" stroke="#252525" stroke-width="1.0" />
<line x1="252.40" y1="202.50" x2="255.40" y2="202.50" stroke="#252525" stroke-width="1.0" />
<text x="249.40" y="204.92" font-size="6.615" text-anchor="end" fill="#3a3a3a">0.60</text>
<line x1="252.40" y1="221.50" x2="255.40" y2="221.50" stroke="#252525" stroke-width="1.0" />
<text x="249.40" y="223.82" font-size="6.615" text-anchor="end" fill="#3a3a3a">0.45</text>
<line x1="252.40" y1="240.50" x2="255.40" y2="240.50" stroke="#252525" stroke-width="1.0" />
<text x="249.40" y="242.72" font-size="6.615" text-anchor="end" fill="#3a3a3a">0.30</text>
<line x1="252.40" y1="259.50" x2="255.40" y2="259.50" stroke="#252525" stroke-width="1.0" />
<text x="249.40" y="261.62" font-size="6.615" text-anchor="end" fill="#3a3a3a">0.15</text>
<line x1="252.40" y1="277.50" x2="255.40" y2="277.50" stroke="#252525" stroke-width="1.0" />
<text x="249.40" y="280.02" font-size="6.615" text-anchor="end" fill="#3a3a3a">0.00</text>
<line x1="255.40" y1="277.50" x2="294.20" y2="277.50" stroke="#252525" stroke-width="1.0" />
<line x1="256.50" y1="277.70" x2="256.50" y2="280.20" stroke="#252525" stroke-width="1.0" />
<text x="256.40" y="289.01" font-size="6.6" text-anchor="middle" fill="#3a3a3a">0</text>
<line x1="273.50" y1="277.70" x2="273.50" y2="280.20" stroke="#252525" stroke-width="1.0" />
<text x="273.50" y="289.01" font-size="6.6" text-anchor="middle" fill="#3a3a3a">24</text>
<line x1="291.50" y1="277.70" x2="291.50" y2="280.20" stroke="#252525" stroke-width="1.0" />
<text x="291.70" y="289.01" font-size="6.6" text-anchor="middle" fill="#3a3a3a">48</text>
<path d="M256.40,275.00 L273.50,267.00 L291.70,240.40" fill="none" stroke="#1b4378" stroke-width="1.2" />
<path d="M254.20,273.40 L258.60,273.40 L256.40,277.20 Z" fill="#1b4378"/>
<path d="M271.30,265.40 L275.70,265.40 L273.50,269.20 Z" fill="#1b4378"/>
<path d="M289.50,238.80 L293.90,238.80 L291.70,242.60 Z" fill="#1b4378"/>
<path d="M256.40,277.70 L273.50,258.00 L291.70,222.00" fill="none" stroke="#c8153a" stroke-width="1.2" />
<circle cx="256.40" cy="277.70" r="1.9" fill="#c8153a" />
<circle cx="273.50" cy="258.00" r="1.9" fill="#c8153a" />
<circle cx="291.70" cy="222.00" r="1.9" fill="#c8153a" />
<text x="291.70" y="220.22" font-size="7.4" text-anchor="middle" fill="#222">***</text>
<line x1="319.50" y1="200.50" x2="319.50" y2="277.70" stroke="#252525" stroke-width="1.0" />
<line x1="316.10" y1="202.50" x2="319.10" y2="202.50" stroke="#252525" stroke-width="1.0" />
<text x="313.10" y="204.92" font-size="6.615" text-anchor="end" fill="#3a3a3a">0.8</text>
<line x1="316.10" y1="221.50" x2="319.10" y2="221.50" stroke="#252525" stroke-width="1.0" />
<text x="313.10" y="223.82" font-size="6.615" text-anchor="end" fill="#3a3a3a">0.6</text>
<line x1="316.10" y1="240.50" x2="319.10" y2="240.50" stroke="#252525" stroke-width="1.0" />
<text x="313.10" y="242.72" font-size="6.615" text-anchor="end" fill="#3a3a3a">0.4</text>
<line x1="316.10" y1="259.50" x2="319.10" y2="259.50" stroke="#252525" stroke-width="1.0" />
<text x="313.10" y="261.62" font-size="6.615" text-anchor="end" fill="#3a3a3a">0.2</text>
<line x1="316.10" y1="277.50" x2="319.10" y2="277.50" stroke="#252525" stroke-width="1.0" />
<text x="313.10" y="280.02" font-size="6.615" text-anchor="end" fill="#3a3a3a">0.0</text>
<line x1="319.10" y1="277.50" x2="357.50" y2="277.50" stroke="#252525" stroke-width="1.0" />
<line x1="320.50" y1="277.70" x2="320.50" y2="280.20" stroke="#252525" stroke-width="1.0" />
<text x="320.00" y="289.01" font-size="6.6" text-anchor="middle" fill="#3a3a3a">0</text>
<line x1="337.50" y1="277.70" x2="337.50" y2="280.20" stroke="#252525" stroke-width="1.0" />
<text x="337.20" y="289.01" font-size="6.6" text-anchor="middle" fill="#3a3a3a">24</text>
<line x1="355.50" y1="277.70" x2="355.50" y2="280.20" stroke="#252525" stroke-width="1.0" />
<text x="355.00" y="289.01" font-size="6.6" text-anchor="middle" fill="#3a3a3a">48</text>
<path d="M320.00,273.50 L337.20,262.00 L355.00,231.70" fill="none" stroke="#1b4378" stroke-width="1.2" />
<path d="M317.80,271.90 L322.20,271.90 L320.00,275.70 Z" fill="#1b4378"/>
<path d="M335.00,260.40 L339.40,260.40 L337.20,264.20 Z" fill="#1b4378"/>
<path d="M352.80,230.10 L357.20,230.10 L355.00,233.90 Z" fill="#1b4378"/>
<path d="M320.00,272.20 L337.20,260.90 L355.00,222.00" fill="none" stroke="#c8153a" stroke-width="1.2" />
<circle cx="320.00" cy="272.20" r="1.9" fill="#c8153a" />
<circle cx="337.20" cy="260.90" r="1.9" fill="#c8153a" />
<circle cx="355.00" cy="222.00" r="1.9" fill="#c8153a" />
<line x1="355.50" y1="218.50" x2="355.50" y2="225.50" stroke="#c8153a" stroke-width="0.8" />
<line x1="353.20" y1="218.50" x2="356.80" y2="218.50" stroke="#c8153a" stroke-width="0.8" />
<line x1="353.20" y1="225.50" x2="356.80" y2="225.50" stroke="#c8153a" stroke-width="0.8" />
<line x1="355.50" y1="229.20" x2="355.50" y2="234.20" stroke="#1b4378" stroke-width="0.8" />
<line x1="353.20" y1="229.50" x2="356.80" y2="229.50" stroke="#1b4378" stroke-width="0.8" />
<line x1="353.20" y1="234.50" x2="356.80" y2="234.50" stroke="#1b4378" stroke-width="0.8" />
<text x="355.00" y="218.62" font-size="7.4" text-anchor="middle" fill="#222">*</text>
<text x="306.50" y="301.18" font-size="6.8" text-anchor="middle" fill="#3a3a3a">Hour</text>
<text x="368.50" y="185.85" font-size="11" font-weight="bold" fill="#000" style="stroke:none">E</text>
<text x="385.00" y="185.23" font-size="7.8" text-anchor="start" fill="#222" style="stroke:#222;stroke-width:0.18px">Rbm25 CRISPRa in Tet2 KO cells</text>
<text x="423.00" y="196.05" font-size="7" text-anchor="middle" fill="#3a3a3a" style="stroke:#3a3a3a;stroke-width:0.16px">BB88</text>
<text x="489.00" y="196.05" font-size="7" text-anchor="middle" fill="#3a3a3a" style="stroke:#3a3a3a;stroke-width:0.16px">M1</text>
<text x="0" y="0" font-size="7.2" fill="#3a3a3a" text-anchor="middle" textLength="77" lengthAdjust="spacingAndGlyphs" transform="translate(380.5 238.7) rotate(-90)">Cell proliferation (A490 nm)</text>
<line x1="404.50" y1="200.50" x2="404.50" y2="277.70" stroke="#252525" stroke-width="1.0" />
<line x1="401.60" y1="202.50" x2="404.60" y2="202.50" stroke="#252525" stroke-width="1.0" />
<text x="398.60" y="204.92" font-size="6.615" text-anchor="end" fill="#3a3a3a">0.60</text>
<line x1="401.60" y1="221.50" x2="404.60" y2="221.50" stroke="#252525" stroke-width="1.0" />
<text x="398.60" y="223.82" font-size="6.615" text-anchor="end" fill="#3a3a3a">0.45</text>
<line x1="401.60" y1="240.50" x2="404.60" y2="240.50" stroke="#252525" stroke-width="1.0" />
<text x="398.60" y="242.72" font-size="6.615" text-anchor="end" fill="#3a3a3a">0.30</text>
<line x1="401.60" y1="259.50" x2="404.60" y2="259.50" stroke="#252525" stroke-width="1.0" />
<text x="398.60" y="261.62" font-size="6.615" text-anchor="end" fill="#3a3a3a">0.15</text>
<line x1="401.60" y1="277.50" x2="404.60" y2="277.50" stroke="#252525" stroke-width="1.0" />
<text x="398.60" y="280.02" font-size="6.615" text-anchor="end" fill="#3a3a3a">0.00</text>
<line x1="404.60" y1="277.50" x2="442.50" y2="277.50" stroke="#252525" stroke-width="1.0" />
<line x1="405.50" y1="277.70" x2="405.50" y2="280.20" stroke="#252525" stroke-width="1.0" />
<text x="405.60" y="289.01" font-size="6.6" text-anchor="middle" fill="#3a3a3a">0</text>
<line x1="422.50" y1="277.70" x2="422.50" y2="280.20" stroke="#252525" stroke-width="1.0" />
<text x="422.50" y="289.01" font-size="6.6" text-anchor="middle" fill="#3a3a3a">24</text>
<line x1="440.50" y1="277.70" x2="440.50" y2="280.20" stroke="#252525" stroke-width="1.0" />
<text x="440.00" y="289.01" font-size="6.6" text-anchor="middle" fill="#3a3a3a">48</text>
<path d="M405.60,271.20 L422.50,268.00 L440.00,233.30" fill="none" stroke="#c8153a" stroke-width="1.2" />
<circle cx="405.60" cy="271.20" r="1.9" fill="#c8153a" />
<circle cx="422.50" cy="268.00" r="1.9" fill="#c8153a" />
<circle cx="440.00" cy="233.30" r="1.9" fill="#c8153a" />
<path d="M405.60,270.20 L422.50,266.50 L440.00,221.30" fill="none" stroke="#1b4378" stroke-width="1.2" />
<path d="M403.40,268.60 L407.80,268.60 L405.60,272.40 Z" fill="#1b4378"/>
<path d="M420.30,264.90 L424.70,264.90 L422.50,268.70 Z" fill="#1b4378"/>
<path d="M437.80,219.70 L442.20,219.70 L440.00,223.50 Z" fill="#1b4378"/>
<line x1="440.50" y1="230.80" x2="440.50" y2="235.80" stroke="#c8153a" stroke-width="0.8" />
<line x1="438.20" y1="230.50" x2="441.80" y2="230.50" stroke="#c8153a" stroke-width="0.8" />
<line x1="438.20" y1="235.50" x2="441.80" y2="235.50" stroke="#c8153a" stroke-width="0.8" />
<line x1="440.50" y1="218.80" x2="440.50" y2="223.80" stroke="#1b4378" stroke-width="0.8" />
<line x1="438.20" y1="218.50" x2="441.80" y2="218.50" stroke="#1b4378" stroke-width="0.8" />
<line x1="438.20" y1="223.50" x2="441.80" y2="223.50" stroke="#1b4378" stroke-width="0.8" />
<text x="440.00" y="218.02" font-size="7.4" text-anchor="middle" fill="#222">***</text>
<line x1="471.50" y1="200.50" x2="471.50" y2="277.70" stroke="#252525" stroke-width="1.0" />
<line x1="468.70" y1="202.50" x2="471.70" y2="202.50" stroke="#252525" stroke-width="1.0" />
<text x="465.70" y="204.92" font-size="6.615" text-anchor="end" fill="#3a3a3a">1.0</text>
<line x1="468.70" y1="221.50" x2="471.70" y2="221.50" stroke="#252525" stroke-width="1.0" />
<text x="465.70" y="223.82" font-size="6.615" text-anchor="end" fill="#3a3a3a">0.75</text>
<line x1="468.70" y1="240.50" x2="471.70" y2="240.50" stroke="#252525" stroke-width="1.0" />
<text x="465.70" y="242.72" font-size="6.615" text-anchor="end" fill="#3a3a3a">0.50</text>
<line x1="468.70" y1="259.50" x2="471.70" y2="259.50" stroke="#252525" stroke-width="1.0" />
<text x="465.70" y="261.62" font-size="6.615" text-anchor="end" fill="#3a3a3a">0.25</text>
<line x1="468.70" y1="277.50" x2="471.70" y2="277.50" stroke="#252525" stroke-width="1.0" />
<text x="465.70" y="280.02" font-size="6.615" text-anchor="end" fill="#3a3a3a">0.0</text>
<line x1="471.70" y1="277.50" x2="510.20" y2="277.50" stroke="#252525" stroke-width="1.0" />
<line x1="472.50" y1="277.70" x2="472.50" y2="280.20" stroke="#252525" stroke-width="1.0" />
<text x="472.70" y="289.01" font-size="6.6" text-anchor="middle" fill="#3a3a3a">0</text>
<line x1="489.50" y1="277.70" x2="489.50" y2="280.20" stroke="#252525" stroke-width="1.0" />
<text x="489.80" y="289.01" font-size="6.6" text-anchor="middle" fill="#3a3a3a">24</text>
<line x1="507.50" y1="277.70" x2="507.50" y2="280.20" stroke="#252525" stroke-width="1.0" />
<text x="507.70" y="289.01" font-size="6.6" text-anchor="middle" fill="#3a3a3a">48</text>
<path d="M472.70,272.70 L489.80,267.50 L507.70,242.80" fill="none" stroke="#c8153a" stroke-width="1.2" />
<circle cx="472.70" cy="272.70" r="1.9" fill="#c8153a" />
<circle cx="489.80" cy="267.50" r="1.9" fill="#c8153a" />
<circle cx="507.70" cy="242.80" r="1.9" fill="#c8153a" />
<path d="M472.70,271.20 L489.80,259.50 L507.70,222.50" fill="none" stroke="#1b4378" stroke-width="1.2" />
<path d="M470.50,269.60 L474.90,269.60 L472.70,273.40 Z" fill="#1b4378"/>
<path d="M487.60,257.90 L492.00,257.90 L489.80,261.70 Z" fill="#1b4378"/>
<path d="M505.50,220.90 L509.90,220.90 L507.70,224.70 Z" fill="#1b4378"/>
<line x1="507.50" y1="241.80" x2="507.50" y2="243.80" stroke="#c8153a" stroke-width="0.8" />
<line x1="505.90" y1="241.50" x2="509.50" y2="241.50" stroke="#c8153a" stroke-width="0.8" />
<line x1="505.90" y1="243.50" x2="509.50" y2="243.50" stroke="#c8153a" stroke-width="0.8" />
<line x1="507.50" y1="218.50" x2="507.50" y2="226.50" stroke="#1b4378" stroke-width="0.8" />
<line x1="505.90" y1="218.50" x2="509.50" y2="218.50" stroke="#1b4378" stroke-width="0.8" />
<line x1="505.90" y1="226.50" x2="509.50" y2="226.50" stroke="#1b4378" stroke-width="0.8" />
<text x="507.70" y="218.02" font-size="7.4" text-anchor="middle" fill="#222">***</text>
<text x="455.50" y="301.18" font-size="6.8" text-anchor="middle" fill="#3a3a3a">Hour</text>
<text x="6.50" y="327.35" font-size="11" font-weight="bold" fill="#000" style="stroke:none">F</text>
<g transform="translate(60.50 352.40) scale(1.0)">
<path d="M0.2,-1.3 q-1.1,-1.9 -2.2,0 t-2.2,0 t-2.2,0 t-2.2,0" fill="none" stroke="#444" stroke-width="0.75"/>
<path d="M0,0 C0.4,-4.2 5,-8.4 11,-8.4 C16,-8.4 19.5,-6.5 22,-4 C23,-3 24.6,-1.2 24.6,-0.4 L24.6,0 Z" fill="#c8c8cc" stroke="#505050" stroke-width="0.85"/>
<circle cx="17.3" cy="-10.1" r="3.2" fill="#c4b8c0" stroke="#606060" stroke-width="0.8"/>
<circle cx="17.3" cy="-10.1" r="1.5" fill="#e0d8dc" stroke="#707070" stroke-width="0.5"/>
<circle cx="19.2" cy="-3.4" r="0.75" fill="#222"/>
<path d="M23.6,-2 l1.8,-1.6 M24,-1.2 l2.2,-0.2 M23.8,-0.6 l1.8,0.9" stroke="#444" stroke-width="0.4"/>
</g>
<g transform="translate(122.50 352.00) scale(1.0)">
<path d="M0.2,-1.3 q-1.1,-1.9 -2.2,0 t-2.2,0 t-2.2,0 t-2.2,0" fill="none" stroke="#444" stroke-width="0.75"/>
<path d="M0,0 C0.4,-4.2 5,-8.4 11,-8.4 C16,-8.4 19.5,-6.5 22,-4 C23,-3 24.6,-1.2 24.6,-0.4 L24.6,0 Z" fill="#c8c8cc" stroke="#505050" stroke-width="0.85"/>
<circle cx="17.3" cy="-10.1" r="3.2" fill="#c4b8c0" stroke="#606060" stroke-width="0.8"/>
<circle cx="17.3" cy="-10.1" r="1.5" fill="#e0d8dc" stroke="#707070" stroke-width="0.5"/>
<circle cx="19.2" cy="-3.4" r="0.75" fill="#222"/>
<path d="M23.6,-2 l1.8,-1.6 M24,-1.2 l2.2,-0.2 M23.8,-0.6 l1.8,0.9" stroke="#444" stroke-width="0.4"/>
</g>
<g transform="translate(30.60 393.80) scale(1.0)">
<path d="M0.2,-1.3 q-1.1,-1.9 -2.2,0 t-2.2,0 t-2.2,0 t-2.2,0" fill="none" stroke="#444" stroke-width="0.75"/>
<path d="M0,0 C0.4,-4.2 5,-8.4 11,-8.4 C16,-8.4 19.5,-6.5 22,-4 C23,-3 24.6,-1.2 24.6,-0.4 L24.6,0 Z" fill="#c8c8cc" stroke="#505050" stroke-width="0.85"/>
<circle cx="17.3" cy="-10.1" r="3.2" fill="#c4b8c0" stroke="#606060" stroke-width="0.8"/>
<circle cx="17.3" cy="-10.1" r="1.5" fill="#e0d8dc" stroke="#707070" stroke-width="0.5"/>
<circle cx="19.2" cy="-3.4" r="0.75" fill="#222"/>
<path d="M23.6,-2 l1.8,-1.6 M24,-1.2 l2.2,-0.2 M23.8,-0.6 l1.8,0.9" stroke="#444" stroke-width="0.4"/>
</g>
<g transform="translate(154.50 394.00) scale(1.0)">
<path d="M0.2,-1.3 q-1.1,-1.9 -2.2,0 t-2.2,0 t-2.2,0 t-2.2,0" fill="none" stroke="#444" stroke-width="0.75"/>
<path d="M0,0 C0.4,-4.2 5,-8.4 11,-8.4 C16,-8.4 19.5,-6.5 22,-4 C23,-3 24.6,-1.2 24.6,-0.4 L24.6,0 Z" fill="#c8c8cc" stroke="#505050" stroke-width="0.85"/>
<circle cx="17.3" cy="-10.1" r="3.2" fill="#c4b8c0" stroke="#606060" stroke-width="0.8"/>
<circle cx="17.3" cy="-10.1" r="1.5" fill="#e0d8dc" stroke="#707070" stroke-width="0.5"/>
<circle cx="19.2" cy="-3.4" r="0.75" fill="#222"/>
<path d="M23.6,-2 l1.8,-1.6 M24,-1.2 l2.2,-0.2 M23.8,-0.6 l1.8,0.9" stroke="#444" stroke-width="0.4"/>
</g>
<text x="35.00" y="350.27" font-size="6.5" text-anchor="middle" fill="#3a3a3a">Tet2<tspan font-size="3.8" dy="-2.5">+/−</tspan></text>
<text x="173.00" y="344.77" font-size="6.5" text-anchor="middle" fill="#3a3a3a">dCas9-KRAB<tspan font-size="3.8" dy="-2.5">+/−</tspan></text>
<text x="172.50" y="351.97" font-size="6.5" text-anchor="middle" fill="#3a3a3a">(CRISPRi)</text>
<path d="M97.9,344.9 L103.9,350.9 M103.9,344.9 L97.9,350.9" fill="none" stroke="#111" stroke-width="1.35" />
<path d="M99.9,357.5 C99.5,366 90,367 80,367.8 C70,368.5 60,369 53.2,374" fill="none" stroke="#111" stroke-width="1.1" />
<path d="M50.3,377 L51.6,371.6 L55.3,375.1 Z" fill="#111"/>
<polygon points="88.90,380.10 87.42,380.73 88.02,382.22 86.53,381.62 85.90,383.10 85.27,381.62 83.78,382.22 84.38,380.73 82.90,380.10 84.38,379.47 83.78,377.98 85.27,378.58 85.90,377.10 86.53,378.58 88.02,377.98 87.42,379.47" fill="#e8202c"/>
<circle cx="85.90" cy="380.10" r="1.6500000000000001" fill="#d0101c" />
<polygon points="98.30,381.40 96.82,382.03 97.42,383.52 95.93,382.92 95.30,384.40 94.67,382.92 93.18,383.52 93.78,382.03 92.30,381.40 93.78,380.77 93.18,379.28 94.67,379.88 95.30,378.40 95.93,379.88 97.42,379.28 96.82,380.77" fill="#e8202c"/>
<circle cx="95.30" cy="381.40" r="1.6500000000000001" fill="#d0101c" />
<polygon points="82.10,385.20 80.62,385.83 81.22,387.32 79.73,386.72 79.10,388.20 78.47,386.72 76.98,387.32 77.58,385.83 76.10,385.20 77.58,384.57 76.98,383.08 78.47,383.68 79.10,382.20 79.73,383.68 81.22,383.08 80.62,384.57" fill="#e8202c"/>
<circle cx="79.10" cy="385.20" r="1.6500000000000001" fill="#d0101c" />
<polygon points="91.60,386.30 90.12,386.93 90.72,388.42 89.23,387.82 88.60,389.30 87.97,387.82 86.48,388.42 87.08,386.93 85.60,386.30 87.08,385.67 86.48,384.18 87.97,384.78 88.60,383.30 89.23,384.78 90.72,384.18 90.12,385.67" fill="#e8202c"/>
<circle cx="88.60" cy="386.30" r="1.6500000000000001" fill="#d0101c" />
<circle cx="75.10" cy="394.60" r="3.2" fill="#f4f4f4" stroke="#555" stroke-width="0.9" />
<circle cx="75.10" cy="394.60" r="1.5" fill="#999" stroke="#444" stroke-width="0.5" />
<circle cx="81.80" cy="394.60" r="3.2" fill="#f4f4f4" stroke="#555" stroke-width="0.9" />
<circle cx="81.80" cy="394.60" r="1.5" fill="#b0102a" stroke="#444" stroke-width="0.5" />
<circle cx="89.00" cy="394.60" r="3.2" fill="#f4f4f4" stroke="#555" stroke-width="0.9" />
<circle cx="89.00" cy="394.60" r="1.5" fill="#999" stroke="#444" stroke-width="0.5" />
<circle cx="96.20" cy="394.60" r="3.2" fill="#f4f4f4" stroke="#555" stroke-width="0.9" />
<circle cx="96.20" cy="394.60" r="1.5" fill="#b0102a" stroke="#444" stroke-width="0.5" />
<line x1="102.70" y1="390.50" x2="110.10" y2="390.50" stroke="#111" stroke-width="0.9" />
<path d="M112.80,390.30 L109.60,388.70 L109.60,391.90 Z" fill="#111"/>
<circle cx="120.90" cy="385.90" r="3.0" fill="#fff" stroke="#555" stroke-width="0.8" />
<circle cx="120.90" cy="385.90" r="1.4" fill="#b0102a" stroke="#444" stroke-width="0.5" />
<circle cx="129.30" cy="385.90" r="3.0" fill="#fff" stroke="#555" stroke-width="0.8" />
<circle cx="129.30" cy="385.90" r="1.4" fill="#b0102a" stroke="#444" stroke-width="0.5" />
<circle cx="119.50" cy="393.50" r="3.0" fill="#fff" stroke="#555" stroke-width="0.8" />
<circle cx="119.50" cy="393.50" r="1.4" fill="#999" stroke="#444" stroke-width="0.5" />
<circle cx="127.20" cy="393.50" r="3.0" fill="#fff" stroke="#555" stroke-width="0.8" />
<circle cx="127.20" cy="393.50" r="1.4" fill="#999" stroke="#444" stroke-width="0.5" />
<path d="M134.9,390.3 C139,386 142,381 146.3,378.9" fill="none" stroke="#f0c8cc" stroke-width="0.8" />
<g transform="translate(152.3 378.7) rotate(50)">
<rect x="-7" y="-1.6" width="11" height="3.2" fill="#d85a6a" stroke="#1e2f4a" stroke-width="0.8"/>
<rect x="-9" y="-2.4" width="2" height="4.8" fill="#1e2f4a"/>
<line x1="4" y1="0" x2="8" y2="0" stroke="#333" stroke-width="0.6"/>
</g>
<circle cx="162.70" cy="376.40" r="4.6" fill="#f2e222" stroke="#222" stroke-width="0.5" />
<path d="M162.10,375.36 L160.70,372.94 A4.0,4.0 0 0 1 164.70,372.94 L163.30,375.36 A1.2,1.2 0 0 0 162.10,375.36 Z" fill="#111"/>
<path d="M163.90,376.40 L166.70,376.40 A4.0,4.0 0 0 1 164.70,379.86 L163.30,377.44 A1.2,1.2 0 0 0 163.90,376.40 Z" fill="#111"/>
<path d="M162.10,377.44 L160.70,379.86 A4.0,4.0 0 0 1 158.70,376.40 L161.50,376.40 A1.2,1.2 0 0 0 162.10,377.44 Z" fill="#111"/>
<circle cx="162.70" cy="376.40" r="0.8" fill="#111" />
<line x1="184.70" y1="390.50" x2="191.00" y2="390.50" stroke="#111" stroke-width="0.9" />
<path d="M193.70,390.30 L190.50,388.70 L190.50,391.90 Z" fill="#111"/>
<g transform="translate(201.9 390.7) rotate(-38)">
<path d="M-6,-0.9 L6,-0.9 C6.5,-2.8 9,-2.8 9,-1.2 C10,-1 10,1 9,1.2 C9,2.8 6.5,2.8 6,0.9 L-6,0.9 C-6.5,2.8 -9,2.8 -9,1.2 C-10,1 -10,-1 -9,-1.2 C-9,-2.8 -6.5,-2.8 -6,-0.9 Z" fill="#fff" stroke="#777" stroke-width="0.7"/>
</g>
<text x="34.00" y="409.97" font-size="6.5" text-anchor="middle" fill="#3a3a3a">Tet2<tspan font-size="3.8" dy="-2.5">+/−</tspan></text>
<text x="35.80" y="420.77" font-size="6.5" text-anchor="middle" fill="#3a3a3a">dCas9-KRAB<tspan font-size="3.8" dy="-2.5">+/−</tspan></text>
<text x="34.60" y="428.47" font-size="6.5" text-anchor="middle" fill="#3a3a3a">(CRISPRi)</text>
<text x="83.00" y="407.27" font-size="6.5" text-anchor="middle" fill="#3a3a3a">Isolate &amp;</text>
<text x="83.00" y="414.97" font-size="6.5" text-anchor="middle" fill="#3a3a3a">transduce HSCs</text>
<text x="83.00" y="422.67" font-size="6.5" text-anchor="middle" fill="#3a3a3a">with NT/Rbm25</text>
<text x="83.00" y="430.38" font-size="6.5" text-anchor="middle" fill="#3a3a3a">sgRNAs</text>
<text x="138.75" y="407.27" font-size="6.5" text-anchor="middle" fill="#3a3a3a">Transplant into</text>
<text x="138.75" y="414.97" font-size="6.5" text-anchor="middle" fill="#3a3a3a">irradiated</text>
<text x="138.75" y="422.67" font-size="6.5" text-anchor="middle" fill="#3a3a3a">wildtype</text>
<text x="138.75" y="430.38" font-size="6.5" text-anchor="middle" fill="#3a3a3a">recipients</text>
<text x="192.50" y="407.27" font-size="6.5" text-anchor="middle" fill="#3a3a3a">Flow</text>
<text x="192.50" y="414.97" font-size="6.5" text-anchor="middle" fill="#3a3a3a">cytometry</text>
<text x="223.00" y="326.85" font-size="11" font-weight="bold" fill="#000" style="stroke:none">G</text>
<line x1="261.50" y1="334.00" x2="261.50" y2="412.00" stroke="#252525" stroke-width="1.0" />
<line x1="258.20" y1="336.50" x2="261.20" y2="336.50" stroke="#252525" stroke-width="1.0" />
<line x1="258.20" y1="373.50" x2="261.20" y2="373.50" stroke="#252525" stroke-width="1.0" />
<line x1="258.20" y1="411.50" x2="261.20" y2="411.50" stroke="#252525" stroke-width="1.0" />
<text x="254.50" y="338.20" font-size="6.3" text-anchor="end" fill="#3a3a3a">10<tspan font-size="3.8" dy="-2.5">0</tspan></text>
<text x="254.50" y="375.70" font-size="6.3" text-anchor="end" fill="#3a3a3a">10<tspan font-size="3.8" dy="-2.5">−1</tspan></text>
<text x="254.50" y="413.20" font-size="6.3" text-anchor="end" fill="#3a3a3a">10<tspan font-size="3.8" dy="-2.5">−2</tspan></text>
<line x1="261.20" y1="412.50" x2="318.60" y2="412.50" stroke="#252525" stroke-width="1.0" />
<line x1="293.50" y1="412.00" x2="293.50" y2="414.50" stroke="#252525" stroke-width="1.0" />
<text x="293.50" y="421.97" font-size="6.5" text-anchor="middle" fill="#3a3a3a">KLS</text>
<text x="237.30" y="374.20" font-size="6.3" text-anchor="middle" fill="#3a3a3a" transform="rotate(-90 237.30 372.00)">% RFP+ MNC in BM</text>
<line x1="278.50" y1="345.50" x2="307.40" y2="345.50" stroke="#252525" stroke-width="0.9" />
<text x="293.00" y="345.93" font-size="7.6" text-anchor="middle" fill="#222">**</text>
<circle cx="269.30" cy="371.60" r="1.5" fill="#114e8e" />
<circle cx="273.40" cy="369.80" r="1.5" fill="#114e8e" />
<circle cx="277.90" cy="370.60" r="1.5" fill="#114e8e" />
<circle cx="282.00" cy="369.80" r="1.5" fill="#114e8e" />
<circle cx="286.30" cy="372.20" r="1.5" fill="#114e8e" />
<circle cx="277.90" cy="366.10" r="1.5" fill="#114e8e" />
<circle cx="277.90" cy="363.40" r="1.5" fill="#114e8e" />
<circle cx="277.90" cy="383.10" r="1.5" fill="#114e8e" />
<line x1="268.00" y1="370.50" x2="291.10" y2="370.50" stroke="#222" stroke-width="0.9" />
<circle cx="301.60" cy="360.70" r="1.5" fill="#cc0826" />
<circle cx="301.60" cy="363.80" r="1.5" fill="#cc0826" />
<circle cx="301.60" cy="366.80" r="1.5" fill="#cc0826" />
<circle cx="306.80" cy="355.90" r="1.5" fill="#cc0826" />
<circle cx="306.80" cy="364.70" r="1.5" fill="#cc0826" />
<circle cx="312.20" cy="362.00" r="1.5" fill="#cc0826" />
<circle cx="312.20" cy="366.50" r="1.5" fill="#cc0826" />
<line x1="295.90" y1="362.50" x2="318.40" y2="362.50" stroke="#222" stroke-width="0.9" />
<line x1="360.50" y1="333.00" x2="360.50" y2="411.30" stroke="#252525" stroke-width="1.0" />
<line x1="357.50" y1="336.50" x2="360.50" y2="336.50" stroke="#252525" stroke-width="1.0" />
<line x1="357.50" y1="351.50" x2="360.50" y2="351.50" stroke="#252525" stroke-width="1.0" />
<line x1="357.50" y1="366.50" x2="360.50" y2="366.50" stroke="#252525" stroke-width="1.0" />
<line x1="357.50" y1="381.50" x2="360.50" y2="381.50" stroke="#252525" stroke-width="1.0" />
<line x1="357.50" y1="396.50" x2="360.50" y2="396.50" stroke="#252525" stroke-width="1.0" />
<line x1="357.50" y1="411.50" x2="360.50" y2="411.50" stroke="#252525" stroke-width="1.0" />
<text x="354.00" y="338.81" font-size="6.3" text-anchor="end" fill="#3a3a3a">10<tspan font-size="3.8" dy="-2.5">1</tspan></text>
<text x="354.00" y="353.69" font-size="6.3" text-anchor="end" fill="#3a3a3a">10<tspan font-size="3.8" dy="-2.5">0</tspan></text>
<text x="354.00" y="368.56" font-size="6.3" text-anchor="end" fill="#3a3a3a">10<tspan font-size="3.8" dy="-2.5">−1</tspan></text>
<text x="354.00" y="383.44" font-size="6.3" text-anchor="end" fill="#3a3a3a">10<tspan font-size="3.8" dy="-2.5">−2</tspan></text>
<text x="354.00" y="398.32" font-size="6.3" text-anchor="end" fill="#3a3a3a">10<tspan font-size="3.8" dy="-2.5">−3</tspan></text>
<text x="354.00" y="413.20" font-size="6.3" text-anchor="end" fill="#3a3a3a">10<tspan font-size="3.8" dy="-2.5">−4</tspan></text>
<text x="335.50" y="374.20" font-size="6.3" text-anchor="middle" fill="#3a3a3a" transform="rotate(-90 335.50 372.00)">% RFP+ MNC in BM</text>
<line x1="360.50" y1="411.50" x2="511.00" y2="411.50" stroke="#252525" stroke-width="1.0" />
<line x1="369.50" y1="411.30" x2="369.50" y2="413.80" stroke="#252525" stroke-width="1.0" />
<text x="372.10" y="418.50" font-size="6.3" text-anchor="end" fill="#3a3a3a" transform="rotate(-45 372.10 418.50)">HSC</text>
<circle cx="364.23" cy="386.00" r="1.3" fill="#114e8e" />
<circle cx="367.31" cy="388.46" r="1.3" fill="#114e8e" />
<circle cx="362.69" cy="391.54" r="1.3" fill="#114e8e" />
<circle cx="365.77" cy="393.08" r="1.3" fill="#114e8e" />
<circle cx="368.85" cy="394.62" r="1.3" fill="#114e8e" />
<circle cx="364.23" cy="396.15" r="1.3" fill="#114e8e" />
<circle cx="362.69" cy="399.23" r="1.3" fill="#114e8e" />
<circle cx="367.31" cy="397.69" r="1.3" fill="#114e8e" />
<circle cx="372.85" cy="386.92" r="1.3" fill="#cc0826" />
<circle cx="375.00" cy="388.46" r="1.3" fill="#cc0826" />
<circle cx="371.92" cy="390.00" r="1.3" fill="#cc0826" />
<circle cx="375.92" cy="390.00" r="1.3" fill="#cc0826" />
<circle cx="373.46" cy="391.54" r="1.3" fill="#cc0826" />
<circle cx="375.00" cy="393.08" r="1.3" fill="#cc0826" />
<circle cx="374.08" cy="387.85" r="1.3" fill="#cc0826" />
<line x1="362.10" y1="391.50" x2="369.10" y2="391.50" stroke="#222" stroke-width="0.7" />
<line x1="370.10" y1="390.50" x2="377.10" y2="390.50" stroke="#222" stroke-width="0.7" />
<line x1="391.50" y1="411.30" x2="391.50" y2="413.80" stroke="#252525" stroke-width="1.0" />
<text x="394.03" y="418.50" font-size="6.3" text-anchor="end" fill="#3a3a3a" transform="rotate(-45 394.03 418.50)">MPP1/2</text>
<circle cx="387.31" cy="376.15" r="1.3" fill="#114e8e" />
<circle cx="388.85" cy="378.62" r="1.3" fill="#114e8e" />
<circle cx="385.77" cy="380.77" r="1.3" fill="#114e8e" />
<circle cx="390.38" cy="379.85" r="1.3" fill="#114e8e" />
<circle cx="388.23" cy="382.31" r="1.3" fill="#114e8e" />
<circle cx="386.69" cy="388.46" r="1.3" fill="#114e8e" />
<circle cx="389.46" cy="376.77" r="1.3" fill="#114e8e" />
<circle cx="394.38" cy="375.54" r="1.3" fill="#cc0826" />
<circle cx="396.54" cy="376.77" r="1.3" fill="#cc0826" />
<circle cx="393.46" cy="378.62" r="1.3" fill="#cc0826" />
<circle cx="398.08" cy="377.69" r="1.3" fill="#cc0826" />
<circle cx="395.62" cy="380.77" r="1.3" fill="#cc0826" />
<circle cx="397.15" cy="379.23" r="1.3" fill="#cc0826" />
<line x1="384.03" y1="379.50" x2="391.03" y2="379.50" stroke="#222" stroke-width="0.7" />
<line x1="392.03" y1="377.50" x2="399.03" y2="377.50" stroke="#222" stroke-width="0.7" />
<line x1="413.50" y1="411.30" x2="413.50" y2="413.80" stroke="#252525" stroke-width="1.0" />
<text x="415.96" y="418.50" font-size="6.3" text-anchor="end" fill="#3a3a3a" transform="rotate(-45 415.96 418.50)">MPP3</text>
<circle cx="407.92" cy="365.38" r="1.3" fill="#114e8e" />
<circle cx="410.38" cy="366.92" r="1.3" fill="#114e8e" />
<circle cx="407.31" cy="369.38" r="1.3" fill="#114e8e" />
<circle cx="411.92" cy="368.46" r="1.3" fill="#114e8e" />
<circle cx="409.77" cy="371.54" r="1.3" fill="#114e8e" />
<circle cx="408.85" cy="373.08" r="1.3" fill="#114e8e" />
<circle cx="415.92" cy="363.85" r="1.3" fill="#cc0826" />
<circle cx="418.08" cy="364.46" r="1.3" fill="#cc0826" />
<circle cx="420.23" cy="363.23" r="1.3" fill="#cc0826" />
<circle cx="416.54" cy="366.00" r="1.3" fill="#cc0826" />
<circle cx="419.62" cy="365.69" r="1.3" fill="#cc0826" />
<circle cx="418.38" cy="363.54" r="1.3" fill="#cc0826" />
<line x1="405.96" y1="368.50" x2="412.96" y2="368.50" stroke="#222" stroke-width="0.7" />
<line x1="413.96" y1="364.50" x2="420.96" y2="364.50" stroke="#222" stroke-width="0.7" />
<line x1="435.50" y1="411.30" x2="435.50" y2="413.80" stroke="#252525" stroke-width="1.0" />
<text x="437.89" y="418.50" font-size="6.3" text-anchor="end" fill="#3a3a3a" transform="rotate(-45 437.89 418.50)">MPP4</text>
<circle cx="430.38" cy="374.62" r="1.3" fill="#114e8e" />
<circle cx="431.92" cy="377.69" r="1.3" fill="#114e8e" />
<circle cx="428.85" cy="380.77" r="1.3" fill="#114e8e" />
<circle cx="433.46" cy="382.31" r="1.3" fill="#114e8e" />
<circle cx="430.38" cy="385.38" r="1.3" fill="#114e8e" />
<circle cx="431.92" cy="390.00" r="1.3" fill="#114e8e" />
<circle cx="439.62" cy="366.92" r="1.3" fill="#cc0826" />
<circle cx="438.08" cy="370.00" r="1.3" fill="#cc0826" />
<circle cx="441.15" cy="376.15" r="1.3" fill="#cc0826" />
<circle cx="437.46" cy="379.23" r="1.3" fill="#cc0826" />
<circle cx="439.62" cy="383.85" r="1.3" fill="#cc0826" />
<circle cx="442.08" cy="386.92" r="1.3" fill="#cc0826" />
<line x1="427.89" y1="380.50" x2="434.89" y2="380.50" stroke="#222" stroke-width="0.7" />
<line x1="435.89" y1="374.50" x2="442.89" y2="374.50" stroke="#222" stroke-width="0.7" />
<line x1="457.50" y1="411.30" x2="457.50" y2="413.80" stroke="#252525" stroke-width="1.0" />
<text x="459.82" y="418.50" font-size="6.3" text-anchor="end" fill="#3a3a3a" transform="rotate(-45 459.82 418.50)">CMP</text>
<circle cx="451.00" cy="365.38" r="1.3" fill="#114e8e" />
<circle cx="452.85" cy="363.85" r="1.3" fill="#114e8e" />
<circle cx="455.00" cy="366.31" r="1.3" fill="#114e8e" />
<circle cx="451.92" cy="367.54" r="1.3" fill="#114e8e" />
<circle cx="456.54" cy="366.92" r="1.3" fill="#114e8e" />
<circle cx="453.46" cy="366.00" r="1.3" fill="#114e8e" />
<circle cx="461.15" cy="359.23" r="1.3" fill="#cc0826" />
<circle cx="459.62" cy="362.31" r="1.3" fill="#cc0826" />
<circle cx="462.69" cy="363.23" r="1.3" fill="#cc0826" />
<circle cx="459.00" cy="364.46" r="1.3" fill="#cc0826" />
<circle cx="463.31" cy="366.31" r="1.3" fill="#cc0826" />
<circle cx="461.46" cy="361.38" r="1.3" fill="#cc0826" />
<line x1="449.82" y1="366.50" x2="456.82" y2="366.50" stroke="#222" stroke-width="0.7" />
<line x1="457.82" y1="362.50" x2="464.82" y2="362.50" stroke="#222" stroke-width="0.7" />
<line x1="479.50" y1="411.30" x2="479.50" y2="413.80" stroke="#252525" stroke-width="1.0" />
<text x="481.75" y="418.50" font-size="6.3" text-anchor="end" fill="#3a3a3a" transform="rotate(-45 481.75 418.50)">GMP</text>
<circle cx="473.46" cy="347.85" r="1.3" fill="#114e8e" />
<circle cx="475.62" cy="349.08" r="1.3" fill="#114e8e" />
<circle cx="477.46" cy="346.92" r="1.3" fill="#114e8e" />
<circle cx="474.38" cy="350.92" r="1.3" fill="#114e8e" />
<circle cx="476.54" cy="351.54" r="1.3" fill="#114e8e" />
<circle cx="475.00" cy="349.69" r="1.3" fill="#114e8e" />
<circle cx="481.15" cy="346.92" r="1.3" fill="#cc0826" />
<circle cx="483.62" cy="345.38" r="1.3" fill="#cc0826" />
<circle cx="484.85" cy="348.46" r="1.3" fill="#cc0826" />
<circle cx="480.54" cy="350.00" r="1.3" fill="#cc0826" />
<circle cx="484.23" cy="354.00" r="1.3" fill="#cc0826" />
<circle cx="482.69" cy="347.85" r="1.3" fill="#cc0826" />
<line x1="471.75" y1="349.50" x2="478.75" y2="349.50" stroke="#222" stroke-width="0.7" />
<line x1="479.75" y1="347.50" x2="486.75" y2="347.50" stroke="#222" stroke-width="0.7" />
<line x1="501.50" y1="411.30" x2="501.50" y2="413.80" stroke="#252525" stroke-width="1.0" />
<text x="503.68" y="418.50" font-size="6.3" text-anchor="end" fill="#3a3a3a" transform="rotate(-45 503.68 418.50)">MEP</text>
<circle cx="495.92" cy="350.92" r="1.3" fill="#114e8e" />
<circle cx="498.08" cy="351.54" r="1.3" fill="#114e8e" />
<circle cx="496.54" cy="353.08" r="1.3" fill="#114e8e" />
<circle cx="499.00" cy="352.15" r="1.3" fill="#114e8e" />
<circle cx="497.15" cy="357.69" r="1.3" fill="#114e8e" />
<circle cx="497.46" cy="350.31" r="1.3" fill="#114e8e" />
<circle cx="503.31" cy="350.00" r="1.3" fill="#cc0826" />
<circle cx="505.77" cy="349.08" r="1.3" fill="#cc0826" />
<circle cx="504.23" cy="351.54" r="1.3" fill="#cc0826" />
<circle cx="507.31" cy="350.92" r="1.3" fill="#cc0826" />
<circle cx="504.23" cy="354.62" r="1.3" fill="#cc0826" />
<circle cx="506.38" cy="354.62" r="1.3" fill="#cc0826" />
<line x1="493.68" y1="352.50" x2="500.68" y2="352.50" stroke="#222" stroke-width="0.7" />
<line x1="501.68" y1="350.50" x2="508.68" y2="350.50" stroke="#222" stroke-width="0.7" />
<line x1="408.00" y1="354.50" x2="418.00" y2="354.50" stroke="#252525" stroke-width="0.9" />
<text x="413.00" y="354.53" font-size="7.6" text-anchor="middle" fill="#222">**</text>
<line x1="452.00" y1="354.50" x2="462.00" y2="354.50" stroke="#252525" stroke-width="0.9" />
<text x="457.00" y="354.53" font-size="7.6" text-anchor="middle" fill="#222">*</text>
<text x="6.50" y="463.35" font-size="11" font-weight="bold" fill="#000" style="stroke:none">H</text>
<text x="53.70" y="462.77" font-size="8.2" text-anchor="middle" fill="#222" style="stroke:#222;stroke-width:0.18px">Lymphoid</text>
<text x="113.90" y="462.67" font-size="8.2" text-anchor="middle" fill="#222" style="stroke:#222;stroke-width:0.18px">Myeloid</text>
<line x1="34.50" y1="468.50" x2="34.50" y2="547.80" stroke="#252525" stroke-width="1.0" />
<line x1="31.60" y1="470.50" x2="34.60" y2="470.50" stroke="#252525" stroke-width="1.0" />
<text x="28.60" y="472.72" font-size="6.615" text-anchor="end" fill="#3a3a3a">100</text>
<line x1="31.60" y1="485.50" x2="34.60" y2="485.50" stroke="#252525" stroke-width="1.0" />
<text x="28.60" y="488.20" font-size="6.615" text-anchor="end" fill="#3a3a3a">80</text>
<line x1="31.60" y1="501.50" x2="34.60" y2="501.50" stroke="#252525" stroke-width="1.0" />
<text x="28.60" y="503.68" font-size="6.615" text-anchor="end" fill="#3a3a3a">60</text>
<line x1="31.60" y1="516.50" x2="34.60" y2="516.50" stroke="#252525" stroke-width="1.0" />
<text x="28.60" y="519.16" font-size="6.615" text-anchor="end" fill="#3a3a3a">40</text>
<line x1="31.60" y1="532.50" x2="34.60" y2="532.50" stroke="#252525" stroke-width="1.0" />
<text x="28.60" y="534.64" font-size="6.615" text-anchor="end" fill="#3a3a3a">20</text>
<line x1="31.60" y1="547.50" x2="34.60" y2="547.50" stroke="#252525" stroke-width="1.0" />
<text x="28.60" y="550.12" font-size="6.615" text-anchor="end" fill="#3a3a3a">0</text>
<line x1="34.60" y1="547.50" x2="76.00" y2="547.50" stroke="#252525" stroke-width="1.0" />
<text x="11.20" y="509.20" font-size="6.3" text-anchor="middle" fill="#3a3a3a" transform="rotate(-90 11.20 507.00)">% RFP+ MNC in PB</text>
<rect x="38.00" y="531.80" width="5.80" height="16.00" fill="#114e8e"/>
<line x1="40.50" y1="530.80" x2="40.50" y2="531.80" stroke="#222" stroke-width="0.6" />
<line x1="39.10" y1="530.50" x2="42.70" y2="530.50" stroke="#222" stroke-width="0.6" />
<circle cx="40.90" cy="528.40" r="0.9" fill="#222" />
<circle cx="39.70" cy="533.00" r="0.9" fill="#222" />
<circle cx="42.20" cy="532.60" r="0.9" fill="#222" />
<rect x="45.00" y="532.00" width="6.50" height="15.80" fill="#cc0826"/>
<line x1="48.50" y1="531.00" x2="48.50" y2="532.00" stroke="#222" stroke-width="0.6" />
<line x1="46.45" y1="531.50" x2="50.05" y2="531.50" stroke="#222" stroke-width="0.6" />
<circle cx="48.25" cy="529.60" r="0.9" fill="#222" />
<circle cx="46.95" cy="533.20" r="0.9" fill="#222" />
<circle cx="49.45" cy="533.50" r="0.9" fill="#222" />
<rect x="56.00" y="490.60" width="6.00" height="57.20" fill="#114e8e"/>
<line x1="59.50" y1="489.60" x2="59.50" y2="490.60" stroke="#222" stroke-width="0.6" />
<line x1="57.20" y1="489.50" x2="60.80" y2="489.50" stroke="#222" stroke-width="0.6" />
<circle cx="59.00" cy="484.50" r="0.9" fill="#222" />
<circle cx="57.50" cy="491.40" r="0.9" fill="#222" />
<circle cx="60.20" cy="492.00" r="0.9" fill="#222" />
<rect x="63.30" y="495.50" width="5.80" height="52.30" fill="#cc0826"/>
<line x1="66.50" y1="494.50" x2="66.50" y2="495.50" stroke="#222" stroke-width="0.6" />
<line x1="64.40" y1="494.50" x2="68.00" y2="494.50" stroke="#222" stroke-width="0.6" />
<circle cx="65.90" cy="492.00" r="0.9" fill="#222" />
<circle cx="68.10" cy="494.30" r="0.9" fill="#222" />
<circle cx="65.00" cy="496.50" r="0.9" fill="#222" />
<line x1="40.50" y1="521.50" x2="49.50" y2="521.50" stroke="#666" stroke-width="0.6" />
<text x="45.00" y="519.98" font-size="6.5" text-anchor="middle" fill="#3a3a3a">ns</text>
<line x1="58.00" y1="479.50" x2="67.00" y2="479.50" stroke="#666" stroke-width="0.6" />
<text x="62.50" y="478.17" font-size="6.5" text-anchor="middle" fill="#3a3a3a">ns</text>
<line x1="44.50" y1="547.80" x2="44.50" y2="550.30" stroke="#252525" stroke-width="1.0" />
<line x1="62.50" y1="547.80" x2="62.50" y2="550.30" stroke="#252525" stroke-width="1.0" />
<text x="44.70" y="558.07" font-size="6.5" text-anchor="middle" fill="#3a3a3a">T</text>
<text x="62.30" y="558.07" font-size="6.5" text-anchor="middle" fill="#3a3a3a">B</text>
<line x1="94.50" y1="468.50" x2="94.50" y2="547.20" stroke="#252525" stroke-width="1.0" />
<line x1="91.60" y1="469.50" x2="94.60" y2="469.50" stroke="#252525" stroke-width="1.0" />
<text x="88.60" y="472.12" font-size="6.615" text-anchor="end" fill="#3a3a3a">10</text>
<line x1="91.60" y1="485.50" x2="94.60" y2="485.50" stroke="#252525" stroke-width="1.0" />
<text x="88.60" y="487.60" font-size="6.615" text-anchor="end" fill="#3a3a3a">8</text>
<line x1="91.60" y1="500.50" x2="94.60" y2="500.50" stroke="#252525" stroke-width="1.0" />
<text x="88.60" y="503.08" font-size="6.615" text-anchor="end" fill="#3a3a3a">6</text>
<line x1="91.60" y1="516.50" x2="94.60" y2="516.50" stroke="#252525" stroke-width="1.0" />
<text x="88.60" y="518.56" font-size="6.615" text-anchor="end" fill="#3a3a3a">4</text>
<line x1="91.60" y1="531.50" x2="94.60" y2="531.50" stroke="#252525" stroke-width="1.0" />
<text x="88.60" y="534.04" font-size="6.615" text-anchor="end" fill="#3a3a3a">2</text>
<line x1="91.60" y1="547.50" x2="94.60" y2="547.50" stroke="#252525" stroke-width="1.0" />
<text x="88.60" y="549.52" font-size="6.615" text-anchor="end" fill="#3a3a3a">0</text>
<line x1="94.60" y1="547.50" x2="133.70" y2="547.50" stroke="#252525" stroke-width="1.0" />
<rect x="98.40" y="512.30" width="6.00" height="34.90" fill="#114e8e"/>
<line x1="101.50" y1="509.80" x2="101.50" y2="512.30" stroke="#222" stroke-width="0.6" />
<line x1="99.60" y1="509.50" x2="103.20" y2="509.50" stroke="#222" stroke-width="0.6" />
<circle cx="99.90" cy="506.30" r="0.9" fill="#222" />
<circle cx="102.60" cy="508.80" r="0.9" fill="#222" />
<circle cx="100.60" cy="510.80" r="0.9" fill="#222" />
<circle cx="102.90" cy="514.30" r="0.9" fill="#222" />
<circle cx="99.80" cy="516.30" r="0.9" fill="#222" />
<rect x="105.60" y="494.40" width="6.20" height="52.80" fill="#cc0826"/>
<line x1="108.50" y1="490.90" x2="108.50" y2="494.40" stroke="#222" stroke-width="0.6" />
<line x1="106.90" y1="490.50" x2="110.50" y2="490.50" stroke="#222" stroke-width="0.6" />
<circle cx="106.70" cy="483.40" r="0.9" fill="#222" />
<circle cx="110.90" cy="483.40" r="0.9" fill="#222" />
<circle cx="108.70" cy="499.40" r="0.9" fill="#222" />
<circle cx="107.70" cy="503.40" r="0.9" fill="#222" />
<rect x="116.10" y="527.80" width="6.00" height="19.40" fill="#114e8e"/>
<line x1="119.50" y1="526.60" x2="119.50" y2="527.80" stroke="#222" stroke-width="0.6" />
<line x1="117.30" y1="526.50" x2="120.90" y2="526.50" stroke="#222" stroke-width="0.6" />
<circle cx="117.60" cy="526.50" r="0.9" fill="#222" />
<circle cx="120.60" cy="527.00" r="0.9" fill="#222" />
<circle cx="119.10" cy="529.30" r="0.9" fill="#222" />
<rect x="123.30" y="521.00" width="6.40" height="26.20" fill="#cc0826"/>
<line x1="126.50" y1="518.50" x2="126.50" y2="521.00" stroke="#222" stroke-width="0.6" />
<line x1="124.70" y1="518.50" x2="128.30" y2="518.50" stroke="#222" stroke-width="0.6" />
<circle cx="127.00" cy="516.00" r="0.9" fill="#222" />
<circle cx="125.50" cy="519.00" r="0.9" fill="#222" />
<circle cx="128.00" cy="523.00" r="0.9" fill="#222" />
<line x1="101.50" y1="479.50" x2="109.60" y2="479.50" stroke="#252525" stroke-width="0.9" />
<text x="105.50" y="481.05" font-size="7.8" text-anchor="middle" fill="#222">**</text>
<line x1="118.70" y1="509.50" x2="126.80" y2="509.50" stroke="#252525" stroke-width="0.9" />
<text x="122.70" y="510.35" font-size="7.8" text-anchor="middle" fill="#222">**</text>
<line x1="105.50" y1="547.20" x2="105.50" y2="549.70" stroke="#252525" stroke-width="1.0" />
<line x1="122.50" y1="547.20" x2="122.50" y2="549.70" stroke="#252525" stroke-width="1.0" />
<text x="106.20" y="553.60" font-size="6.8" text-anchor="end" fill="#3a3a3a" transform="rotate(-45 106.20 553.60)">Gran.</text>
<text x="123.40" y="553.60" font-size="6.8" text-anchor="end" fill="#3a3a3a" transform="rotate(-45 123.40 553.60)">Mono.</text>
<text x="148.6" y="463.3" font-size="11" font-weight="bold" fill="#000" style="stroke:none">I</text>
<text x="189.40" y="462.47" font-size="8.2" text-anchor="middle" fill="#222" style="stroke:#222;stroke-width:0.18px">HSC</text>
<line x1="169.50" y1="468.00" x2="169.50" y2="547.10" stroke="#252525" stroke-width="1.0" />
<line x1="166.30" y1="475.50" x2="169.30" y2="475.50" stroke="#252525" stroke-width="1.0" />
<text x="163.30" y="477.72" font-size="6.615" text-anchor="end" fill="#3a3a3a">4</text>
<line x1="166.30" y1="492.50" x2="169.30" y2="492.50" stroke="#252525" stroke-width="1.0" />
<text x="163.30" y="494.82" font-size="6.615" text-anchor="end" fill="#3a3a3a">3</text>
<line x1="166.30" y1="509.50" x2="169.30" y2="509.50" stroke="#252525" stroke-width="1.0" />
<text x="163.30" y="511.92" font-size="6.615" text-anchor="end" fill="#3a3a3a">2</text>
<line x1="166.30" y1="526.50" x2="169.30" y2="526.50" stroke="#252525" stroke-width="1.0" />
<text x="163.30" y="529.02" font-size="6.615" text-anchor="end" fill="#3a3a3a">1</text>
<line x1="166.30" y1="543.50" x2="169.30" y2="543.50" stroke="#252525" stroke-width="1.0" />
<text x="163.30" y="546.12" font-size="6.615" text-anchor="end" fill="#3a3a3a">0</text>
<line x1="169.30" y1="547.50" x2="210.40" y2="547.50" stroke="#252525" stroke-width="1.0" />
<line x1="189.50" y1="547.10" x2="189.50" y2="549.60" stroke="#252525" stroke-width="1.0" />
<text x="153.00" y="511.05" font-size="6.7" text-anchor="middle" fill="#3a3a3a" transform="rotate(-90 153.00 508.70)">Rbm25 gene expression</text>
<line x1="183.50" y1="498.70" x2="183.50" y2="519.70" stroke="#333" stroke-width="0.8" />
<line x1="181.00" y1="498.50" x2="186.60" y2="498.50" stroke="#333" stroke-width="0.8" />
<line x1="183.50" y1="532.60" x2="183.50" y2="543.40" stroke="#333" stroke-width="0.8" />
<line x1="181.00" y1="543.50" x2="186.60" y2="543.50" stroke="#333" stroke-width="0.8" />
<rect x="178.20" y="519.70" width="11.20" height="12.90" fill="#16479a"/>
<line x1="178.20" y1="524.80" x2="189.40" y2="524.80" stroke="#0a1a30" stroke-width="1.4" />
<line x1="195.50" y1="478.20" x2="195.50" y2="515.80" stroke="#333" stroke-width="0.8" />
<line x1="193.00" y1="478.50" x2="198.60" y2="478.50" stroke="#333" stroke-width="0.8" />
<rect x="190.30" y="515.80" width="11.20" height="28.00" fill="#f7921c"/>
<line x1="190.30" y1="524.80" x2="201.50" y2="524.80" stroke="#6a3000" stroke-width="1.4" />
<path d="M183.8,476.3 L183.8,473.3 L195.8,473.3 L195.8,476.3" fill="none" stroke="#252525" stroke-width="0.7" />
<text x="189.80" y="472.00" font-size="6.3" text-anchor="middle" fill="#3a3a3a">ns</text>
<text x="224.50" y="463.35" font-size="11" font-weight="bold" fill="#000" style="stroke:none">J</text>
<text x="305.50" y="471.24" font-size="8.4" text-anchor="middle" fill="#222" style="stroke:#222;stroke-width:0.18px">HSPC</text>
<text x="453.60" y="471.54" font-size="8.4" text-anchor="middle" fill="#222" style="stroke:#222;stroke-width:0.18px">WBC</text>
<line x1="243.10" y1="476.50" x2="245.60" y2="476.50" stroke="#252525" stroke-width="1.0" />
<text x="241.60" y="478.61" font-size="6.6" text-anchor="end" fill="#3a3a3a">3</text>
<line x1="243.10" y1="496.50" x2="245.60" y2="496.50" stroke="#252525" stroke-width="1.0" />
<text x="241.60" y="498.91" font-size="6.6" text-anchor="end" fill="#3a3a3a">2</text>
<line x1="243.10" y1="516.50" x2="245.60" y2="516.50" stroke="#252525" stroke-width="1.0" />
<text x="241.60" y="519.21" font-size="6.6" text-anchor="end" fill="#3a3a3a">1</text>
<line x1="243.10" y1="537.50" x2="245.60" y2="537.50" stroke="#252525" stroke-width="1.0" />
<text x="241.60" y="539.51" font-size="6.6" text-anchor="end" fill="#3a3a3a">0</text>
<rect x="245.60" y="476.30" width="47.00" height="60.90" fill="none" stroke="#2a2a2a" stroke-width="1.0"/>
<line x1="245.50" y1="537.20" x2="245.50" y2="539.20" stroke="#252525" stroke-width="1.0" />
<text x="245.80" y="549.01" font-size="6.6" text-anchor="middle" fill="#3a3a3a">1</text>
<line x1="265.50" y1="537.20" x2="265.50" y2="539.20" stroke="#252525" stroke-width="1.0" />
<text x="265.50" y="549.01" font-size="6.6" text-anchor="middle" fill="#3a3a3a">20</text>
<line x1="285.50" y1="537.20" x2="285.50" y2="539.20" stroke="#252525" stroke-width="1.0" />
<text x="285.80" y="549.01" font-size="6.6" text-anchor="middle" fill="#3a3a3a">40</text>
<circle cx="264.65" cy="515.47" r="1.05" fill="#1f5a99" />
<circle cx="288.37" cy="518.33" r="1.05" fill="#1f5a99" />
<circle cx="277.44" cy="502.38" r="1.05" fill="#1f5a99" />
<circle cx="273.27" cy="510.72" r="1.05" fill="#1f5a99" />
<circle cx="289.33" cy="513.28" r="1.05" fill="#1f5a99" />
<circle cx="249.83" cy="512.92" r="1.05" fill="#1f5a99" />
<circle cx="283.66" cy="516.25" r="1.05" fill="#1f5a99" />
<circle cx="278.37" cy="506.69" r="1.05" fill="#1f5a99" />
<circle cx="289.99" cy="507.06" r="1.05" fill="#1f5a99" />
<circle cx="261.39" cy="519.03" r="1.05" fill="#1f5a99" />
<circle cx="261.57" cy="518.80" r="1.05" fill="#1f5a99" />
<circle cx="253.91" cy="506.80" r="1.05" fill="#1f5a99" />
<circle cx="285.03" cy="514.48" r="1.05" fill="#1f5a99" />
<circle cx="276.11" cy="517.49" r="1.05" fill="#1f5a99" />
<circle cx="255.66" cy="508.61" r="1.05" fill="#1f5a99" />
<circle cx="261.55" cy="511.59" r="1.05" fill="#1f5a99" />
<circle cx="257.30" cy="508.79" r="1.05" fill="#1f5a99" />
<circle cx="265.69" cy="502.33" r="1.05" fill="#1f5a99" />
<circle cx="267.11" cy="528.07" r="1.05" fill="#1f5a99" />
<circle cx="249.61" cy="497.85" r="1.05" fill="#1f5a99" />
<circle cx="249.33" cy="493.93" r="1.05" fill="#1f5a99" />
<circle cx="284.82" cy="514.06" r="1.05" fill="#1f5a99" />
<circle cx="274.41" cy="522.69" r="1.05" fill="#1f5a99" />
<circle cx="274.61" cy="522.14" r="1.05" fill="#1f5a99" />
<circle cx="251.92" cy="511.20" r="1.05" fill="#1f5a99" />
<circle cx="252.83" cy="513.52" r="1.05" fill="#1f5a99" />
<circle cx="249.30" cy="506.92" r="1.05" fill="#1f5a99" />
<circle cx="252.46" cy="511.40" r="1.05" fill="#1f5a99" />
<circle cx="250.19" cy="514.15" r="1.05" fill="#1f5a99" />
<circle cx="288.84" cy="508.51" r="1.05" fill="#1f5a99" />
<circle cx="251.23" cy="499.14" r="1.05" fill="#1f5a99" />
<circle cx="272.98" cy="518.69" r="1.05" fill="#1f5a99" />
<circle cx="269.60" cy="505.26" r="1.05" fill="#1f5a99" />
<circle cx="285.66" cy="514.82" r="1.05" fill="#1f5a99" />
<circle cx="259.39" cy="504.24" r="1.05" fill="#1f5a99" />
<circle cx="279.25" cy="516.27" r="1.05" fill="#1f5a99" />
<circle cx="267.13" cy="512.16" r="1.05" fill="#1f5a99" />
<circle cx="277.48" cy="517.33" r="1.05" fill="#1f5a99" />
<circle cx="271.19" cy="510.65" r="1.05" fill="#1f5a99" />
<circle cx="263.37" cy="505.31" r="1.05" fill="#1f5a99" />
<circle cx="268.15" cy="507.39" r="1.05" fill="#1f5a99" />
<circle cx="282.81" cy="515.41" r="1.05" fill="#1f5a99" />
<circle cx="250.68" cy="535.58" r="1.05" fill="#1f5a99" />
<circle cx="261.28" cy="535.58" r="1.05" fill="#1f5a99" />
<path d="M245.60,514.30 L290.00,512.20" fill="none" stroke="#1a1a1a" stroke-width="1.3" />
<text x="278.80" y="483.04" font-size="6.4" text-anchor="middle" fill="#3a3a3a"><tspan font-style="italic">r</tspan><tspan font-size="3.8" dy="1.3">s</tspan><tspan dy="-1.3"> = 0.05</tspan></text>
<text x="277.50" y="490.94" font-size="6.4" text-anchor="middle" fill="#3a3a3a"><tspan font-style="italic">P</tspan> = .59</text>
<rect x="296.50" y="476.30" width="68.90" height="60.90" fill="none" stroke="#2a2a2a" stroke-width="1.0"/>
<line x1="297.50" y1="537.20" x2="297.50" y2="539.20" stroke="#252525" stroke-width="1.0" />
<text x="297.40" y="549.01" font-size="6.6" text-anchor="middle" fill="#3a3a3a">1</text>
<line x1="317.50" y1="537.20" x2="317.50" y2="539.20" stroke="#252525" stroke-width="1.0" />
<text x="317.40" y="549.01" font-size="6.6" text-anchor="middle" fill="#3a3a3a">20</text>
<line x1="337.50" y1="537.20" x2="337.50" y2="539.20" stroke="#252525" stroke-width="1.0" />
<text x="337.00" y="549.01" font-size="6.6" text-anchor="middle" fill="#3a3a3a">40</text>
<line x1="356.50" y1="537.20" x2="356.50" y2="539.20" stroke="#252525" stroke-width="1.0" />
<text x="356.20" y="549.01" font-size="6.6" text-anchor="middle" fill="#3a3a3a">60</text>
<circle cx="361.43" cy="502.98" r="1.05" fill="#f0a02a" />
<circle cx="324.23" cy="495.94" r="1.05" fill="#f0a02a" />
<circle cx="360.29" cy="502.40" r="1.05" fill="#f0a02a" />
<circle cx="319.52" cy="510.53" r="1.05" fill="#f0a02a" />
<circle cx="355.51" cy="511.44" r="1.05" fill="#f0a02a" />
<circle cx="312.53" cy="500.60" r="1.05" fill="#f0a02a" />
<circle cx="334.27" cy="505.77" r="1.05" fill="#f0a02a" />
<circle cx="337.82" cy="507.02" r="1.05" fill="#f0a02a" />
<circle cx="332.05" cy="516.35" r="1.05" fill="#f0a02a" />
<circle cx="352.65" cy="495.63" r="1.05" fill="#f0a02a" />
<circle cx="332.31" cy="518.24" r="1.05" fill="#f0a02a" />
<circle cx="362.71" cy="494.10" r="1.05" fill="#f0a02a" />
<circle cx="325.55" cy="518.15" r="1.05" fill="#f0a02a" />
<circle cx="341.87" cy="528.07" r="1.05" fill="#f0a02a" />
<circle cx="338.14" cy="503.42" r="1.05" fill="#f0a02a" />
<circle cx="316.46" cy="502.50" r="1.05" fill="#f0a02a" />
<circle cx="354.07" cy="505.36" r="1.05" fill="#f0a02a" />
<circle cx="358.34" cy="511.61" r="1.05" fill="#f0a02a" />
<circle cx="339.43" cy="499.74" r="1.05" fill="#f0a02a" />
<circle cx="339.53" cy="507.99" r="1.05" fill="#f0a02a" />
<circle cx="305.21" cy="510.78" r="1.05" fill="#f0a02a" />
<circle cx="325.14" cy="517.80" r="1.05" fill="#f0a02a" />
<circle cx="324.30" cy="512.59" r="1.05" fill="#f0a02a" />
<circle cx="362.94" cy="509.33" r="1.05" fill="#f0a02a" />
<circle cx="316.63" cy="496.11" r="1.05" fill="#f0a02a" />
<circle cx="338.83" cy="491.80" r="1.05" fill="#f0a02a" />
<circle cx="343.45" cy="492.57" r="1.05" fill="#f0a02a" />
<circle cx="317.20" cy="495.03" r="1.05" fill="#f0a02a" />
<circle cx="332.65" cy="513.46" r="1.05" fill="#f0a02a" />
<circle cx="337.14" cy="500.20" r="1.05" fill="#f0a02a" />
<circle cx="346.90" cy="508.47" r="1.05" fill="#f0a02a" />
<circle cx="362.73" cy="508.71" r="1.05" fill="#f0a02a" />
<circle cx="333.34" cy="514.04" r="1.05" fill="#f0a02a" />
<circle cx="350.61" cy="501.92" r="1.05" fill="#f0a02a" />
<circle cx="313.55" cy="516.84" r="1.05" fill="#f0a02a" />
<circle cx="351.82" cy="503.88" r="1.05" fill="#f0a02a" />
<circle cx="337.96" cy="520.66" r="1.05" fill="#f0a02a" />
<circle cx="314.25" cy="485.44" r="1.05" fill="#f0a02a" />
<circle cx="356.34" cy="520.22" r="1.05" fill="#f0a02a" />
<circle cx="360.54" cy="485.44" r="1.05" fill="#f0a02a" />
<circle cx="356.64" cy="500.05" r="1.05" fill="#f0a02a" />
<circle cx="317.96" cy="506.51" r="1.05" fill="#f0a02a" />
<circle cx="338.74" cy="516.32" r="1.05" fill="#f0a02a" />
<circle cx="326.87" cy="509.76" r="1.05" fill="#f0a02a" />
<circle cx="326.41" cy="500.28" r="1.05" fill="#f0a02a" />
<circle cx="328.63" cy="522.31" r="1.05" fill="#f0a02a" />
<circle cx="327.90" cy="493.02" r="1.05" fill="#f0a02a" />
<circle cx="299.17" cy="503.91" r="1.05" fill="#f0a02a" />
<circle cx="325.08" cy="501.10" r="1.05" fill="#f0a02a" />
<circle cx="331.01" cy="504.72" r="1.05" fill="#f0a02a" />
<circle cx="308.51" cy="521.64" r="1.05" fill="#f0a02a" />
<circle cx="310.72" cy="526.50" r="1.05" fill="#f0a02a" />
<circle cx="348.30" cy="516.82" r="1.05" fill="#f0a02a" />
<circle cx="356.86" cy="502.88" r="1.05" fill="#f0a02a" />
<circle cx="346.95" cy="521.04" r="1.05" fill="#f0a02a" />
<circle cx="304.49" cy="515.89" r="1.05" fill="#f0a02a" />
<circle cx="303.37" cy="514.08" r="1.05" fill="#f0a02a" />
<circle cx="318.66" cy="500.40" r="1.05" fill="#f0a02a" />
<circle cx="317.64" cy="501.08" r="1.05" fill="#f0a02a" />
<circle cx="320.78" cy="494.53" r="1.05" fill="#f0a02a" />
<circle cx="361.54" cy="496.64" r="1.05" fill="#f0a02a" />
<circle cx="339.46" cy="512.54" r="1.05" fill="#f0a02a" />
<circle cx="330.32" cy="535.58" r="1.05" fill="#f0a02a" />
<circle cx="346.94" cy="535.58" r="1.05" fill="#f0a02a" />
<circle cx="312.32" cy="535.58" r="1.05" fill="#f0a02a" />
<circle cx="351.32" cy="535.58" r="1.05" fill="#f0a02a" />
<circle cx="323.96" cy="535.58" r="1.05" fill="#f0a02a" />
<path d="M296.50,506.20 L361.00,521.50" fill="none" stroke="#1a1a1a" stroke-width="1.3" />
<text x="365.00" y="483.04" font-size="6.4" text-anchor="end" fill="#3a3a3a">rs = −0.23</text>
<text x="362.50" y="490.94" font-size="6.4" text-anchor="end" fill="#3a3a3a"><tspan font-style="italic">P</tspan> &lt; .001</text>
<text x="229.70" y="508.90" font-size="6.3" text-anchor="middle" fill="#3a3a3a" transform="rotate(-90 229.70 506.70)">Rbm25 expression in HSCs</text>
<line x1="391.90" y1="476.50" x2="394.40" y2="476.50" stroke="#252525" stroke-width="1.0" />
<text x="390.40" y="478.61" font-size="6.6" text-anchor="end" fill="#3a3a3a">3</text>
<line x1="391.90" y1="496.50" x2="394.40" y2="496.50" stroke="#252525" stroke-width="1.0" />
<text x="390.40" y="498.91" font-size="6.6" text-anchor="end" fill="#3a3a3a">2</text>
<line x1="391.90" y1="516.50" x2="394.40" y2="516.50" stroke="#252525" stroke-width="1.0" />
<text x="390.40" y="519.21" font-size="6.6" text-anchor="end" fill="#3a3a3a">1</text>
<line x1="391.90" y1="537.50" x2="394.40" y2="537.50" stroke="#252525" stroke-width="1.0" />
<text x="390.40" y="539.51" font-size="6.6" text-anchor="end" fill="#3a3a3a">0</text>
<rect x="394.40" y="476.30" width="47.50" height="60.90" fill="none" stroke="#2a2a2a" stroke-width="1.0"/>
<line x1="395.50" y1="537.20" x2="395.50" y2="539.20" stroke="#252525" stroke-width="1.0" />
<text x="395.00" y="549.01" font-size="6.6" text-anchor="middle" fill="#3a3a3a">1</text>
<line x1="414.50" y1="537.20" x2="414.50" y2="539.20" stroke="#252525" stroke-width="1.0" />
<text x="414.40" y="549.01" font-size="6.6" text-anchor="middle" fill="#3a3a3a">20</text>
<line x1="434.50" y1="537.20" x2="434.50" y2="539.20" stroke="#252525" stroke-width="1.0" />
<text x="434.40" y="549.01" font-size="6.6" text-anchor="middle" fill="#3a3a3a">40</text>
<circle cx="401.04" cy="503.79" r="1.05" fill="#1f5a99" />
<circle cx="421.19" cy="508.63" r="1.05" fill="#1f5a99" />
<circle cx="426.49" cy="519.11" r="1.05" fill="#1f5a99" />
<circle cx="396.87" cy="519.71" r="1.05" fill="#1f5a99" />
<circle cx="420.45" cy="501.28" r="1.05" fill="#1f5a99" />
<circle cx="436.29" cy="511.64" r="1.05" fill="#1f5a99" />
<circle cx="397.07" cy="514.27" r="1.05" fill="#1f5a99" />
<circle cx="397.68" cy="509.99" r="1.05" fill="#1f5a99" />
<circle cx="421.07" cy="506.63" r="1.05" fill="#1f5a99" />
<circle cx="434.29" cy="501.60" r="1.05" fill="#1f5a99" />
<circle cx="402.65" cy="505.45" r="1.05" fill="#1f5a99" />
<circle cx="405.04" cy="516.74" r="1.05" fill="#1f5a99" />
<circle cx="418.95" cy="514.84" r="1.05" fill="#1f5a99" />
<circle cx="418.56" cy="514.07" r="1.05" fill="#1f5a99" />
<circle cx="437.63" cy="509.20" r="1.05" fill="#1f5a99" />
<circle cx="417.73" cy="511.34" r="1.05" fill="#1f5a99" />
<circle cx="431.21" cy="518.79" r="1.05" fill="#1f5a99" />
<circle cx="424.68" cy="510.38" r="1.05" fill="#1f5a99" />
<circle cx="402.66" cy="515.35" r="1.05" fill="#1f5a99" />
<circle cx="406.76" cy="519.90" r="1.05" fill="#1f5a99" />
<circle cx="423.75" cy="512.10" r="1.05" fill="#1f5a99" />
<circle cx="433.78" cy="510.11" r="1.05" fill="#1f5a99" />
<circle cx="404.74" cy="509.54" r="1.05" fill="#1f5a99" />
<circle cx="423.54" cy="512.61" r="1.05" fill="#1f5a99" />
<circle cx="413.63" cy="507.14" r="1.05" fill="#1f5a99" />
<circle cx="429.64" cy="511.25" r="1.05" fill="#1f5a99" />
<circle cx="406.77" cy="509.67" r="1.05" fill="#1f5a99" />
<circle cx="406.10" cy="511.21" r="1.05" fill="#1f5a99" />
<circle cx="403.95" cy="507.02" r="1.05" fill="#1f5a99" />
<circle cx="396.67" cy="504.32" r="1.05" fill="#1f5a99" />
<circle cx="414.60" cy="506.87" r="1.05" fill="#1f5a99" />
<circle cx="407.36" cy="517.30" r="1.05" fill="#1f5a99" />
<circle cx="399.34" cy="497.67" r="1.05" fill="#1f5a99" />
<circle cx="425.86" cy="524.02" r="1.05" fill="#1f5a99" />
<circle cx="414.39" cy="515.86" r="1.05" fill="#1f5a99" />
<circle cx="413.74" cy="519.74" r="1.05" fill="#1f5a99" />
<circle cx="434.17" cy="512.16" r="1.05" fill="#1f5a99" />
<circle cx="400.20" cy="513.21" r="1.05" fill="#1f5a99" />
<circle cx="396.73" cy="508.67" r="1.05" fill="#1f5a99" />
<circle cx="434.78" cy="506.10" r="1.05" fill="#1f5a99" />
<circle cx="410.97" cy="516.88" r="1.05" fill="#1f5a99" />
<circle cx="434.31" cy="507.96" r="1.05" fill="#1f5a99" />
<circle cx="410.32" cy="535.58" r="1.05" fill="#1f5a99" />
<circle cx="421.52" cy="535.58" r="1.05" fill="#1f5a99" />
<path d="M394.40,515.30 L437.50,512.00" fill="none" stroke="#1a1a1a" stroke-width="1.3" />
<text x="428.20" y="483.04" font-size="6.4" text-anchor="middle" fill="#3a3a3a"><tspan font-style="italic">r</tspan><tspan font-size="3.8" dy="1.3">s</tspan><tspan dy="-1.3"> = 0.07</tspan></text>
<text x="427.40" y="490.94" font-size="6.4" text-anchor="middle" fill="#3a3a3a"><tspan font-style="italic">P</tspan> = .43</text>
<rect x="446.20" y="476.30" width="66.10" height="60.90" fill="none" stroke="#2a2a2a" stroke-width="1.0"/>
<line x1="446.50" y1="537.20" x2="446.50" y2="539.20" stroke="#252525" stroke-width="1.0" />
<text x="446.50" y="549.01" font-size="6.6" text-anchor="middle" fill="#3a3a3a">1</text>
<line x1="465.50" y1="537.20" x2="465.50" y2="539.20" stroke="#252525" stroke-width="1.0" />
<text x="465.80" y="549.01" font-size="6.6" text-anchor="middle" fill="#3a3a3a">20</text>
<line x1="485.50" y1="537.20" x2="485.50" y2="539.20" stroke="#252525" stroke-width="1.0" />
<text x="485.40" y="549.01" font-size="6.6" text-anchor="middle" fill="#3a3a3a">40</text>
<line x1="505.50" y1="537.20" x2="505.50" y2="539.20" stroke="#252525" stroke-width="1.0" />
<text x="505.40" y="549.01" font-size="6.6" text-anchor="middle" fill="#3a3a3a">60</text>
<circle cx="504.90" cy="497.45" r="1.05" fill="#f0a02a" />
<circle cx="482.59" cy="510.33" r="1.05" fill="#f0a02a" />
<circle cx="469.59" cy="516.42" r="1.05" fill="#f0a02a" />
<circle cx="475.25" cy="500.36" r="1.05" fill="#f0a02a" />
<circle cx="498.18" cy="508.18" r="1.05" fill="#f0a02a" />
<circle cx="463.22" cy="505.51" r="1.05" fill="#f0a02a" />
<circle cx="482.04" cy="503.17" r="1.05" fill="#f0a02a" />
<circle cx="497.10" cy="502.88" r="1.05" fill="#f0a02a" />
<circle cx="497.57" cy="518.48" r="1.05" fill="#f0a02a" />
<circle cx="463.12" cy="511.62" r="1.05" fill="#f0a02a" />
<circle cx="473.36" cy="512.55" r="1.05" fill="#f0a02a" />
<circle cx="487.28" cy="502.53" r="1.05" fill="#f0a02a" />
<circle cx="477.76" cy="515.22" r="1.05" fill="#f0a02a" />
<circle cx="460.90" cy="511.91" r="1.05" fill="#f0a02a" />
<circle cx="506.70" cy="498.18" r="1.05" fill="#f0a02a" />
<circle cx="510.17" cy="519.59" r="1.05" fill="#f0a02a" />
<circle cx="509.68" cy="516.77" r="1.05" fill="#f0a02a" />
<circle cx="481.40" cy="513.97" r="1.05" fill="#f0a02a" />
<circle cx="455.99" cy="517.76" r="1.05" fill="#f0a02a" />
<circle cx="494.82" cy="500.90" r="1.05" fill="#f0a02a" />
<circle cx="501.10" cy="509.71" r="1.05" fill="#f0a02a" />
<circle cx="493.90" cy="511.76" r="1.05" fill="#f0a02a" />
<circle cx="492.80" cy="507.54" r="1.05" fill="#f0a02a" />
<circle cx="457.21" cy="510.20" r="1.05" fill="#f0a02a" />
<circle cx="491.34" cy="491.85" r="1.05" fill="#f0a02a" />
<circle cx="496.40" cy="506.26" r="1.05" fill="#f0a02a" />
<circle cx="503.55" cy="507.01" r="1.05" fill="#f0a02a" />
<circle cx="452.43" cy="501.25" r="1.05" fill="#f0a02a" />
<circle cx="495.30" cy="492.03" r="1.05" fill="#f0a02a" />
<circle cx="460.17" cy="517.22" r="1.05" fill="#f0a02a" />
<circle cx="466.12" cy="508.62" r="1.05" fill="#f0a02a" />
<circle cx="498.93" cy="512.04" r="1.05" fill="#f0a02a" />
<circle cx="500.63" cy="515.43" r="1.05" fill="#f0a02a" />
<circle cx="477.04" cy="502.12" r="1.05" fill="#f0a02a" />
<circle cx="501.80" cy="517.67" r="1.05" fill="#f0a02a" />
<circle cx="506.37" cy="518.06" r="1.05" fill="#f0a02a" />
<circle cx="497.84" cy="503.44" r="1.05" fill="#f0a02a" />
<circle cx="491.11" cy="499.08" r="1.05" fill="#f0a02a" />
<circle cx="491.91" cy="505.93" r="1.05" fill="#f0a02a" />
<circle cx="476.93" cy="509.15" r="1.05" fill="#f0a02a" />
<circle cx="504.47" cy="497.50" r="1.05" fill="#f0a02a" />
<circle cx="454.27" cy="507.77" r="1.05" fill="#f0a02a" />
<circle cx="486.01" cy="509.84" r="1.05" fill="#f0a02a" />
<circle cx="461.81" cy="499.97" r="1.05" fill="#f0a02a" />
<circle cx="485.99" cy="512.32" r="1.05" fill="#f0a02a" />
<circle cx="474.95" cy="517.05" r="1.05" fill="#f0a02a" />
<circle cx="494.05" cy="507.51" r="1.05" fill="#f0a02a" />
<circle cx="482.50" cy="513.67" r="1.05" fill="#f0a02a" />
<circle cx="483.26" cy="524.38" r="1.05" fill="#f0a02a" />
<circle cx="462.34" cy="525.34" r="1.05" fill="#f0a02a" />
<circle cx="505.69" cy="520.08" r="1.05" fill="#f0a02a" />
<circle cx="489.82" cy="507.60" r="1.05" fill="#f0a02a" />
<circle cx="455.15" cy="528.07" r="1.05" fill="#f0a02a" />
<circle cx="495.63" cy="518.60" r="1.05" fill="#f0a02a" />
<circle cx="502.54" cy="519.99" r="1.05" fill="#f0a02a" />
<circle cx="484.54" cy="525.85" r="1.05" fill="#f0a02a" />
<circle cx="490.49" cy="516.90" r="1.05" fill="#f0a02a" />
<circle cx="450.51" cy="528.07" r="1.05" fill="#f0a02a" />
<circle cx="469.67" cy="515.11" r="1.05" fill="#f0a02a" />
<circle cx="504.94" cy="491.78" r="1.05" fill="#f0a02a" />
<circle cx="510.18" cy="522.30" r="1.05" fill="#f0a02a" />
<circle cx="486.41" cy="499.44" r="1.05" fill="#f0a02a" />
<circle cx="462.15" cy="535.58" r="1.05" fill="#f0a02a" />
<circle cx="478.73" cy="535.58" r="1.05" fill="#f0a02a" />
<circle cx="469.08" cy="535.58" r="1.05" fill="#f0a02a" />
<circle cx="501.57" cy="535.58" r="1.05" fill="#f0a02a" />
<path d="M446.20,508.80 L509.20,521.80" fill="none" stroke="#1a1a1a" stroke-width="1.3" />
<text x="511.80" y="483.04" font-size="6.4" text-anchor="end" fill="#3a3a3a">rs = −0.14</text>
<text x="509.30" y="490.94" font-size="6.4" text-anchor="end" fill="#3a3a3a"><tspan font-style="italic">P</tspan> &lt; .05</text>
<text x="378.20" y="508.90" font-size="6.3" text-anchor="middle" fill="#3a3a3a" transform="rotate(-90 378.20 506.70)">Rbm25 expression in HSCs</text>
<line x1="286.00" y1="557.50" x2="304.60" y2="557.50" stroke="#111" stroke-width="0.9" />
<path d="M283,557.5 L286.5,555.8 L286.5,559.2 Z" fill="#111"/>
<text x="307" y="560.4" font-size="7.8" fill="#222" textLength="123.6" lengthAdjust="spacingAndGlyphs">Myeloid-biased cloned ranked by abundance</text>
<line x1="434.00" y1="557.50" x2="451.50" y2="557.50" stroke="#111" stroke-width="0.9" />
<path d="M454.20,557.50 L451.00,555.90 L451.00,559.10 Z" fill="#111"/>
<text x="225.50" y="573.80" font-size="6.0" text-anchor="start" fill="#3a3a3a">Colors apply to Fig 5, I-J:</text>
<rect x="300.20" y="569.20" width="5.20" height="5.20" fill="#1f5a99"/>
<text x="308.80" y="573.87" font-size="6.2" text-anchor="start" fill="#3a3a3a">Control</text>
<rect x="335.00" y="569.20" width="5.20" height="5.20" fill="#f0a02a"/>
<text x="343.00" y="573.87" font-size="6.2" text-anchor="start" fill="#3a3a3a">Tet2 KO</text>
<text x="6.50" y="600.15" font-size="11" font-weight="bold" fill="#000" style="stroke:none">K</text>
<text x="35.60" y="599.67" font-size="8.2" text-anchor="start" fill="#222" style="stroke:#222;stroke-width:0.18px"><tspan font-style="italic">Bcl2l1</tspan> long isoform</text>
<text x="126.00" y="599.67" font-size="8.2" text-anchor="start" fill="#222" style="stroke:#222;stroke-width:0.18px"><tspan font-style="italic">Bcl2l1</tspan> short isoform</text>
<line x1="37.50" y1="610.50" x2="37.50" y2="678.70" stroke="#252525" stroke-width="1.0" />
<line x1="34.90" y1="614.50" x2="37.90" y2="614.50" stroke="#252525" stroke-width="1.0" />
<text x="31.90" y="616.67" font-size="6.615" text-anchor="end" fill="#3a3a3a">1.5</text>
<line x1="34.90" y1="635.50" x2="37.90" y2="635.50" stroke="#252525" stroke-width="1.0" />
<text x="31.90" y="638.12" font-size="6.615" text-anchor="end" fill="#3a3a3a">1.0</text>
<line x1="34.90" y1="657.50" x2="37.90" y2="657.50" stroke="#252525" stroke-width="1.0" />
<text x="31.90" y="659.57" font-size="6.615" text-anchor="end" fill="#3a3a3a">0.5</text>
<line x1="34.90" y1="678.50" x2="37.90" y2="678.50" stroke="#252525" stroke-width="1.0" />
<text x="31.90" y="681.02" font-size="6.615" text-anchor="end" fill="#3a3a3a">0.0</text>
<line x1="37.90" y1="678.50" x2="99.50" y2="678.50" stroke="#252525" stroke-width="1.0" />
<text x="17.00" y="647.81" font-size="6.3" text-anchor="middle" fill="#3a3a3a" transform="rotate(-90 17.00 645.60)">Relative expression</text>
<rect x="48.00" y="635.00" width="16.40" height="43.70" fill="#114e8e"/>
<rect x="74.00" y="618.70" width="16.40" height="60.00" fill="#cc0826"/>
<line x1="56.50" y1="621.50" x2="56.50" y2="635.00" stroke="#222" stroke-width="0.7" />
<line x1="53.00" y1="621.50" x2="59.40" y2="621.50" stroke="#222" stroke-width="0.7" />
<line x1="82.50" y1="615.40" x2="82.50" y2="618.70" stroke="#222" stroke-width="0.7" />
<line x1="79.00" y1="615.50" x2="85.40" y2="615.50" stroke="#222" stroke-width="0.7" />
<circle cx="56.20" cy="627.00" r="1.1" fill="#222" />
<circle cx="55.50" cy="651.50" r="1.1" fill="#222" />
<circle cx="82.20" cy="614.50" r="1.1" fill="#222" />
<circle cx="82.50" cy="623.00" r="1.1" fill="#222" />
<line x1="55.80" y1="609.50" x2="81.70" y2="609.50" stroke="#252525" stroke-width="0.9" />
<text x="69.00" y="610.40" font-size="7.2" text-anchor="middle" fill="#222">*</text>
<line x1="56.50" y1="678.70" x2="56.50" y2="681.20" stroke="#252525" stroke-width="1.0" />
<line x1="82.50" y1="678.70" x2="82.50" y2="681.20" stroke="#252525" stroke-width="1.0" />
<text x="56.30" y="690.21" font-size="6.3" text-anchor="middle" fill="#3a3a3a">NT</text>
<text x="81.70" y="690.21" font-size="6.3" text-anchor="middle" fill="#3a3a3a">Rbm25</text>
<line x1="130.50" y1="611.40" x2="130.50" y2="678.10" stroke="#252525" stroke-width="1.0" />
<line x1="127.20" y1="630.50" x2="130.20" y2="630.50" stroke="#252525" stroke-width="1.0" />
<text x="124.20" y="633.22" font-size="6.615" text-anchor="end" fill="#3a3a3a">1.0</text>
<line x1="127.20" y1="654.50" x2="130.20" y2="654.50" stroke="#252525" stroke-width="1.0" />
<text x="124.20" y="656.82" font-size="6.615" text-anchor="end" fill="#3a3a3a">0.5</text>
<line x1="127.20" y1="678.50" x2="130.20" y2="678.50" stroke="#252525" stroke-width="1.0" />
<text x="124.20" y="680.42" font-size="6.615" text-anchor="end" fill="#3a3a3a">0.0</text>
<line x1="130.20" y1="678.50" x2="190.50" y2="678.50" stroke="#252525" stroke-width="1.0" />
<rect x="139.30" y="631.10" width="16.70" height="47.00" fill="#114e8e"/>
<rect x="164.50" y="641.70" width="17.10" height="36.40" fill="#cc0826"/>
<line x1="147.50" y1="625.00" x2="147.50" y2="631.10" stroke="#222" stroke-width="0.7" />
<line x1="144.50" y1="625.50" x2="150.70" y2="625.50" stroke="#222" stroke-width="0.7" />
<line x1="173.50" y1="638.50" x2="173.50" y2="641.70" stroke="#222" stroke-width="0.7" />
<line x1="170.00" y1="638.50" x2="176.00" y2="638.50" stroke="#222" stroke-width="0.7" />
<circle cx="147.60" cy="624.20" r="1.1" fill="#222" />
<circle cx="147.20" cy="633.50" r="1.1" fill="#222" />
<circle cx="173.00" cy="635.30" r="1.1" fill="#222" />
<circle cx="173.20" cy="645.00" r="1.1" fill="#222" />
<line x1="148.20" y1="609.50" x2="174.60" y2="609.50" stroke="#252525" stroke-width="0.9" />
<text x="161.40" y="610.10" font-size="7.2" text-anchor="middle" fill="#222">*</text>
<line x1="147.50" y1="678.10" x2="147.50" y2="680.60" stroke="#252525" stroke-width="1.0" />
<line x1="173.50" y1="678.10" x2="173.50" y2="680.60" stroke="#252525" stroke-width="1.0" />
<text x="147.50" y="690.21" font-size="6.3" text-anchor="middle" fill="#3a3a3a">NT</text>
<text x="173.00" y="690.21" font-size="6.3" text-anchor="middle" fill="#3a3a3a">Rbm25</text>
<text x="205.50" y="599.35" font-size="11" font-weight="bold" fill="#000" style="stroke:none">L</text>
<defs><linearGradient id="cb" x1="0" y1="0" x2="0" y2="1"><stop offset="0" stop-color="#d40f1e"/><stop offset="0.15" stop-color="#e02a44"/><stop offset="0.35" stop-color="#c45a8a"/><stop offset="0.55" stop-color="#9a78b8"/><stop offset="0.78" stop-color="#5a8ecc"/><stop offset="1" stop-color="#10b4e8"/></linearGradient></defs>
<rect x="220.30" y="611.20" width="5.60" height="71.80" fill="url(#cb)" stroke="#333" stroke-width="0.6"/>
<text x="227.80" y="614.11" font-size="6.3" text-anchor="start" fill="#3a3a3a">high</text>
<text x="227.80" y="685.41" font-size="6.3" text-anchor="start" fill="#3a3a3a">low</text>
<text x="213.80" y="650.40" font-size="6.0" text-anchor="middle" fill="#3a3a3a" transform="rotate(-90 213.80 648.30)">Rbm25 expression</text>
<text x="258.50" y="614.28" font-size="6.8" text-anchor="middle" fill="#3a3a3a">HSCs</text>
<circle cx="259.20" cy="622.30" r="3.45" fill="#a478b4" stroke="#20202a" stroke-width="1.0" />
<circle cx="253.10" cy="630.00" r="3.45" fill="#8a8ccc" stroke="#20202a" stroke-width="1.0" />
<circle cx="263.10" cy="632.30" r="3.45" fill="#8a8ccc" stroke="#20202a" stroke-width="1.0" />
<circle cx="248.10" cy="639.60" r="3.45" fill="#a478b4" stroke="#20202a" stroke-width="1.0" />
<circle cx="258.30" cy="640.60" r="3.45" fill="#a478b4" stroke="#20202a" stroke-width="1.0" />
<circle cx="266.50" cy="641.20" r="3.45" fill="#8a8ccc" stroke="#20202a" stroke-width="1.0" />
<circle cx="251.00" cy="647.70" r="3.45" fill="#8a8ccc" stroke="#20202a" stroke-width="1.0" />
<circle cx="260.80" cy="648.30" r="3.45" fill="#a478b4" stroke="#20202a" stroke-width="1.0" />
<circle cx="253.80" cy="656.00" r="3.45" fill="#a478b4" stroke="#20202a" stroke-width="1.0" />
<circle cx="264.00" cy="656.50" r="3.45" fill="#8a8ccc" stroke="#20202a" stroke-width="1.0" />
<circle cx="247.70" cy="665.00" r="3.45" fill="#a478b4" stroke="#20202a" stroke-width="1.0" />
<circle cx="258.70" cy="665.00" r="3.45" fill="#8a8ccc" stroke="#20202a" stroke-width="1.0" />
<circle cx="269.20" cy="665.60" r="3.45" fill="#a478b4" stroke="#20202a" stroke-width="1.0" />
<circle cx="253.00" cy="674.60" r="3.45" fill="#a478b4" stroke="#20202a" stroke-width="1.0" />
<circle cx="262.50" cy="674.20" r="3.45" fill="#8a8ccc" stroke="#20202a" stroke-width="1.0" />
<line x1="276.50" y1="639.50" x2="290.20" y2="639.50" stroke="#111" stroke-width="0.9" />
<path d="M292.90,639.20 L289.70,637.60 L289.70,640.80 Z" fill="#111"/>
<text x="287.00" y="648.77" font-size="6.5" text-anchor="middle" fill="#3a3a3a" font-style="italic">Tet2 KO</text>
<text x="317.20" y="611.88" font-size="6.8" text-anchor="middle" fill="#3a3a3a"><tspan font-style="italic">Tet2 KO</tspan> HSCs</text>
<path d="M311,618.5 C314,615.5 320,615 324,617.5 C327,620 330,633 331.5,639.5 C332.5,644 329,646.8 325,646.5 C320,646 314,645.5 311.5,643.5 C308,639 305,630 304.3,626.5 C304,623 307,621 311,618.5 Z" fill="#c9ced8" stroke="#808080" stroke-width="0.8" />
<circle cx="317.30" cy="621.90" r="3.45" fill="#2aa2dc" stroke="#20202a" stroke-width="1.0" />
<circle cx="310.80" cy="629.80" r="3.45" fill="#8a8ccc" stroke="#20202a" stroke-width="1.0" />
<circle cx="321.20" cy="632.20" r="3.45" fill="#4a98d4" stroke="#20202a" stroke-width="1.0" />
<circle cx="306.20" cy="639.20" r="3.45" fill="#a478b4" stroke="#20202a" stroke-width="1.0" />
<circle cx="316.30" cy="640.80" r="3.45" fill="#2aa2dc" stroke="#20202a" stroke-width="1.0" />
<circle cx="324.80" cy="641.40" r="3.45" fill="#4a98d4" stroke="#20202a" stroke-width="1.0" />
<circle cx="308.60" cy="647.70" r="3.45" fill="#8a8ccc" stroke="#20202a" stroke-width="1.0" />
<circle cx="318.70" cy="648.70" r="3.45" fill="#b474b4" stroke="#20202a" stroke-width="1.0" />
<circle cx="312.00" cy="656.20" r="3.45" fill="#b474b4" stroke="#20202a" stroke-width="1.0" />
<circle cx="322.00" cy="656.20" r="3.45" fill="#8a8ccc" stroke="#20202a" stroke-width="1.0" />
<circle cx="306.00" cy="665.10" r="3.45" fill="#d82a44" stroke="#20202a" stroke-width="1.0" />
<circle cx="316.90" cy="665.10" r="3.45" fill="#c84060" stroke="#20202a" stroke-width="1.0" />
<circle cx="327.20" cy="665.10" r="3.45" fill="#d82a44" stroke="#20202a" stroke-width="1.0" />
<circle cx="311.40" cy="674.20" r="3.45" fill="#e02040" stroke="#20202a" stroke-width="1.0" />
<circle cx="320.80" cy="674.00" r="3.45" fill="#b05478" stroke="#20202a" stroke-width="1.0" />
<text x="352.50" y="627.31" font-size="6.6" text-anchor="middle" fill="#3a3a3a">Dysregulated</text>
<text x="352.50" y="635.01" font-size="6.6" text-anchor="middle" fill="#3a3a3a">splicing in</text>
<line x1="335.50" y1="639.50" x2="364.60" y2="639.50" stroke="#111" stroke-width="0.9" />
<path d="M367.30,639.40 L364.10,637.80 L364.10,641.00 Z" fill="#111"/>
<text x="352.50" y="649.91" font-size="6.6" text-anchor="middle" fill="#3a3a3a"><tspan font-style="italic">Rbm25</tspan><tspan font-size="4" dy="-2.6" fill="#3aa0dc">low</tspan></text>
<text x="352.50" y="657.11" font-size="6.6" text-anchor="middle" fill="#3a3a3a">cells</text>
<text x="408.2" y="626.31" font-size="6.6" fill="#3a3a3a" text-anchor="middle" textLength="49.5" lengthAdjust="spacingAndGlyphs"><tspan font-style="italic">Bcl2l1</tspan> short isoform</text>
<text x="408.2" y="633.91" font-size="6.6" fill="#3a3a3a" text-anchor="middle" textLength="38.5" lengthAdjust="spacingAndGlyphs">(Pro-apoptotic)</text>
<text x="408.20" y="641.51" font-size="6.6" text-anchor="middle" fill="#3a3a3a">&amp;</text>
<text x="408.2" y="649.11" font-size="6.6" fill="#3a3a3a" text-anchor="middle" textLength="47.5" lengthAdjust="spacingAndGlyphs"><tspan font-style="italic">Bcl2l1</tspan> long isoform</text>
<text x="408.2" y="656.71" font-size="6.6" fill="#3a3a3a" text-anchor="middle" textLength="41" lengthAdjust="spacingAndGlyphs">(Anti-apoptotic)</text>
<line x1="447.60" y1="622.00" x2="447.60" y2="633.00" stroke="#c8102e" stroke-width="1.3" />
<path d="M447.6,637 L445.3,632.3 L449.9,632.3 Z" fill="#c8102e"/>
<line x1="447.60" y1="659.40" x2="447.60" y2="648.50" stroke="#3aaa40" stroke-width="1.3" />
<path d="M447.6,644.6 L445.3,649.3 L449.9,649.3 Z" fill="#3aaa40"/>
<path d="M455.5,630 C458,630 458.5,632 458.5,635 C458.5,638 459,640 461,640 C459,640 458.5,642 458.5,645 C458.5,648 458,650 455.5,650" fill="none" stroke="#111" stroke-width="1.0" />
<line x1="461.00" y1="640.50" x2="464.50" y2="640.50" stroke="#111" stroke-width="0.8" />
<path d="M466.50,640.00 L464.00,638.70 L464.00,641.30 Z" fill="#111"/>
<text x="483.50" y="630.11" font-size="6.6" text-anchor="middle" fill="#3a3a3a">HSPC</text>
<text x="483.50" y="638.31" font-size="6.6" text-anchor="middle" fill="#3a3a3a">preleukemic</text>
<text x="483.50" y="646.51" font-size="6.6" text-anchor="middle" fill="#3a3a3a">clonal</text>
<text x="483.50" y="654.71" font-size="6.6" text-anchor="middle" fill="#3a3a3a">expansion</text>
<line x1="509.80" y1="647.70" x2="509.80" y2="630.50" stroke="#3aaa40" stroke-width="1.3" />
<path d="M509.8,626.2 L507.5,631.2 L512.1,631.2 Z" fill="#3aaa40"/>
<rect x="0.5" y="0.5" width="519" height="697" fill="none" stroke="#555" stroke-width="1.2"/>
</svg></body></html>
